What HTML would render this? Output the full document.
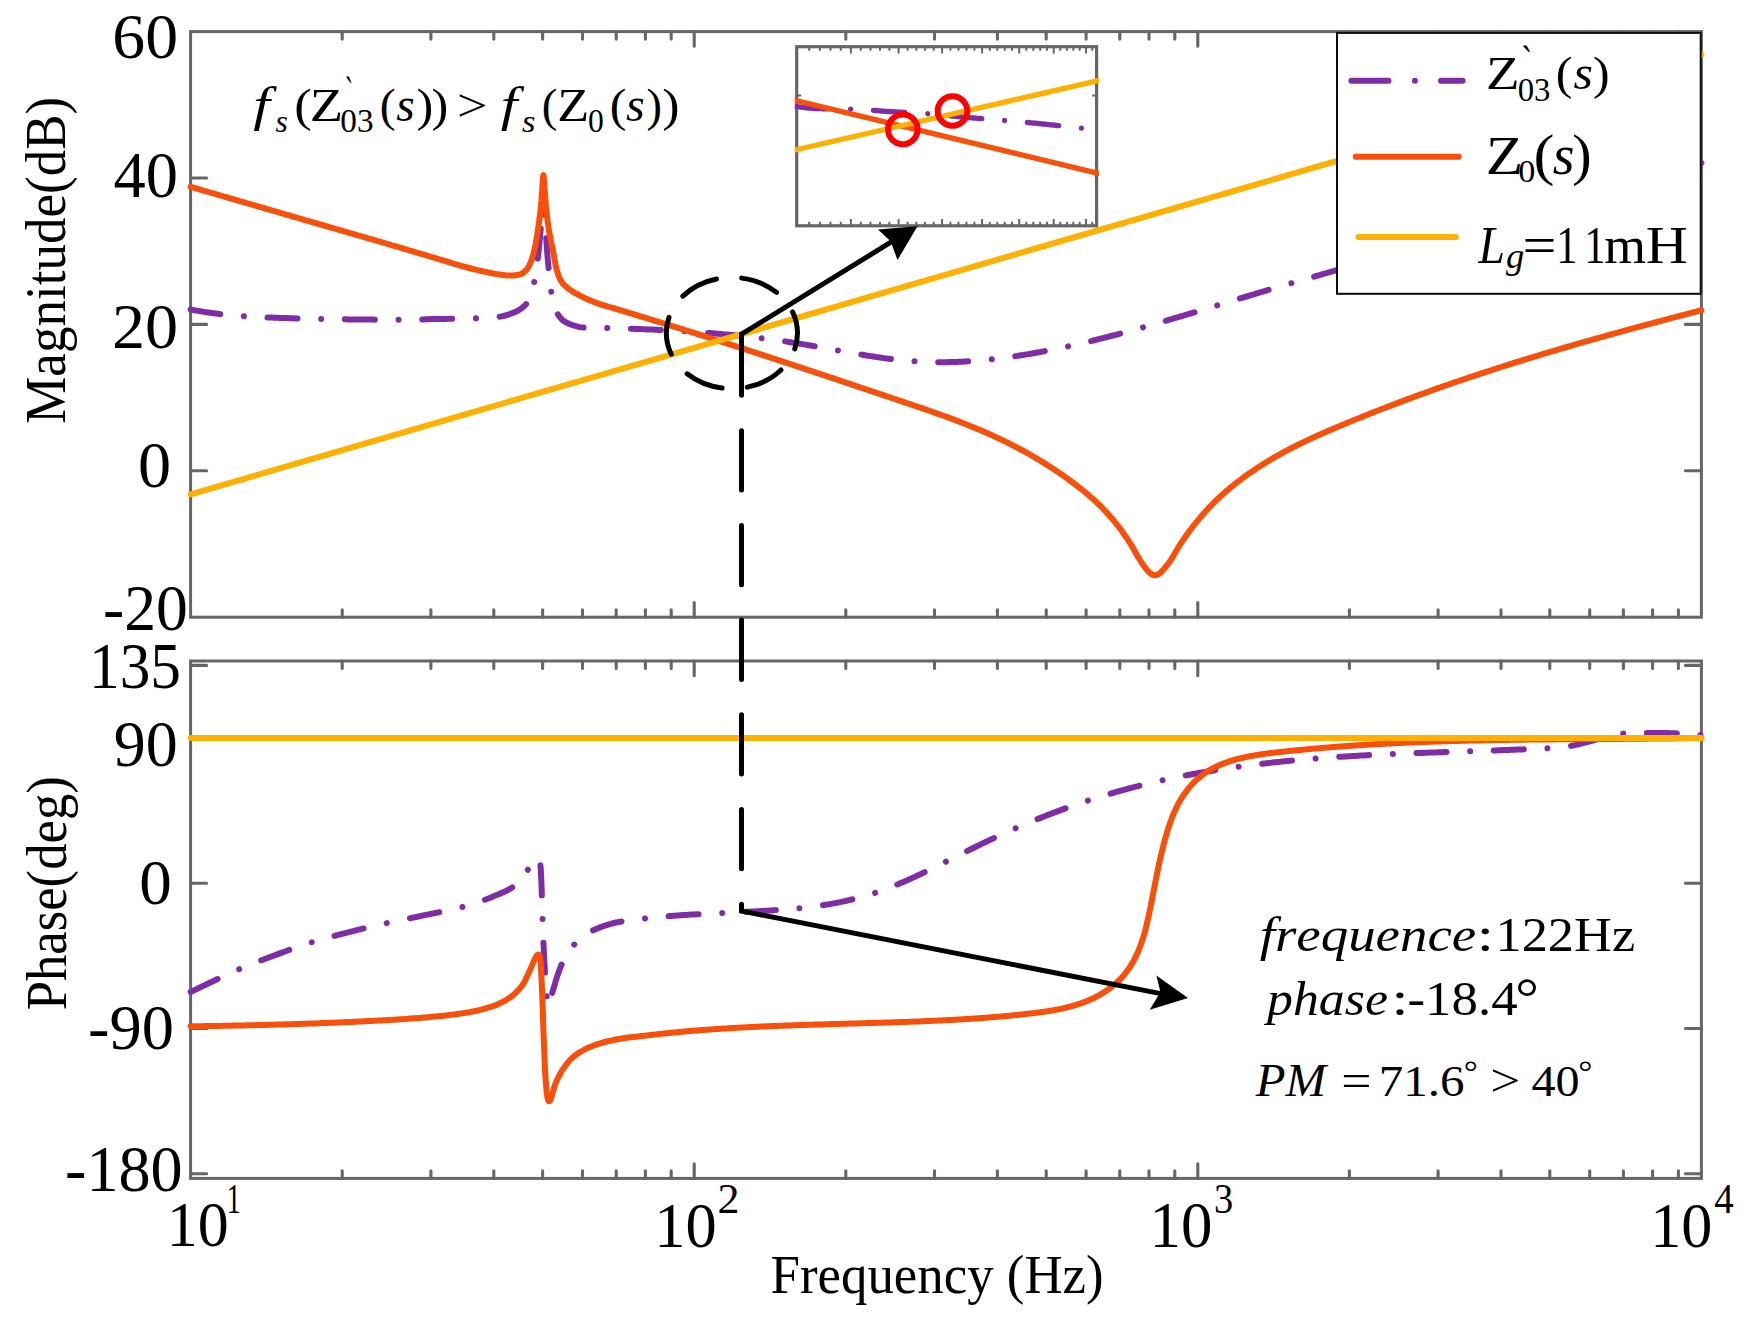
<!DOCTYPE html>
<html lang="en"><head><meta charset="utf-8"><title>Bode plot</title>
<style>html,body{margin:0;padding:0;background:#fff;overflow:hidden}svg{display:block}text{font-family:"Liberation Serif","DejaVu Serif",serif;fill:#000;font-kerning:none;font-variant-ligatures:none;white-space:pre}.i{font-style:italic}</style></head><body>
<svg width="1760" height="1331" viewBox="0 0 1760 1331">
<rect width="1760" height="1331" fill="#fff"/>
<g stroke="#666666" stroke-width="3" fill="none" stroke-linecap="butt">
<rect x="190.6" y="31.6" width="1510.8" height="585.6"/>
<path stroke-width="3.1" stroke-linecap="round" d="M342.2 31.6 v7.5 M342.2 617.2 v-7.5 M430.9 31.6 v7.5 M430.9 617.2 v-7.5 M493.8 31.6 v7.5 M493.8 617.2 v-7.5 M542.6 31.6 v7.5 M542.6 617.2 v-7.5 M582.5 31.6 v7.5 M582.5 617.2 v-7.5 M616.2 31.6 v7.5 M616.2 617.2 v-7.5 M645.4 31.6 v7.5 M645.4 617.2 v-7.5 M671.2 31.6 v7.5 M671.2 617.2 v-7.5 M694.2 31.6 v14.7 M694.2 617.2 v-14.7 M845.8 31.6 v7.5 M845.8 617.2 v-7.5 M934.5 31.6 v7.5 M934.5 617.2 v-7.5 M997.4 31.6 v7.5 M997.4 617.2 v-7.5 M1046.2 31.6 v7.5 M1046.2 617.2 v-7.5 M1086.1 31.6 v7.5 M1086.1 617.2 v-7.5 M1119.8 31.6 v7.5 M1119.8 617.2 v-7.5 M1149.0 31.6 v7.5 M1149.0 617.2 v-7.5 M1174.8 31.6 v7.5 M1174.8 617.2 v-7.5 M1197.8 31.6 v14.7 M1197.8 617.2 v-14.7 M1349.4 31.6 v7.5 M1349.4 617.2 v-7.5 M1438.1 31.6 v7.5 M1438.1 617.2 v-7.5 M1501.0 31.6 v7.5 M1501.0 617.2 v-7.5 M1549.8 31.6 v7.5 M1549.8 617.2 v-7.5 M1589.7 31.6 v7.5 M1589.7 617.2 v-7.5 M1623.4 31.6 v7.5 M1623.4 617.2 v-7.5 M1652.6 31.6 v7.5 M1652.6 617.2 v-7.5 M1678.4 31.6 v7.5 M1678.4 617.2 v-7.5"/>
<path stroke-width="3.1" stroke-linecap="round" d="M190.6 178.0 h16 M1701.4 178.0 h-16 M190.6 324.4 h16 M1701.4 324.4 h-16 M190.6 470.8 h16 M1701.4 470.8 h-16"/>
</g>
<g stroke="#666666" stroke-width="3" fill="none" stroke-linecap="butt">
<rect x="190.6" y="661.0" width="1510.8" height="517.4"/>
<path stroke-width="3.1" stroke-linecap="round" d="M342.2 661.0 v7.5 M342.2 1178.4 v-7.5 M430.9 661.0 v7.5 M430.9 1178.4 v-7.5 M493.8 661.0 v7.5 M493.8 1178.4 v-7.5 M542.6 661.0 v7.5 M542.6 1178.4 v-7.5 M582.5 661.0 v7.5 M582.5 1178.4 v-7.5 M616.2 661.0 v7.5 M616.2 1178.4 v-7.5 M645.4 661.0 v7.5 M645.4 1178.4 v-7.5 M671.2 661.0 v7.5 M671.2 1178.4 v-7.5 M694.2 661.0 v14.7 M694.2 1178.4 v-14.7 M845.8 661.0 v7.5 M845.8 1178.4 v-7.5 M934.5 661.0 v7.5 M934.5 1178.4 v-7.5 M997.4 661.0 v7.5 M997.4 1178.4 v-7.5 M1046.2 661.0 v7.5 M1046.2 1178.4 v-7.5 M1086.1 661.0 v7.5 M1086.1 1178.4 v-7.5 M1119.8 661.0 v7.5 M1119.8 1178.4 v-7.5 M1149.0 661.0 v7.5 M1149.0 1178.4 v-7.5 M1174.8 661.0 v7.5 M1174.8 1178.4 v-7.5 M1197.8 661.0 v14.7 M1197.8 1178.4 v-14.7 M1349.4 661.0 v7.5 M1349.4 1178.4 v-7.5 M1438.1 661.0 v7.5 M1438.1 1178.4 v-7.5 M1501.0 661.0 v7.5 M1501.0 1178.4 v-7.5 M1549.8 661.0 v7.5 M1549.8 1178.4 v-7.5 M1589.7 661.0 v7.5 M1589.7 1178.4 v-7.5 M1623.4 661.0 v7.5 M1623.4 1178.4 v-7.5 M1652.6 661.0 v7.5 M1652.6 1178.4 v-7.5 M1678.4 661.0 v7.5 M1678.4 1178.4 v-7.5"/>
<path stroke-width="3.1" stroke-linecap="round" d="M190.6 665.4 h16 M1701.4 665.4 h-16 M190.6 738.0 h16 M1701.4 738.0 h-16 M190.6 883.3 h16 M1701.4 883.3 h-16 M190.6 1028.5 h16 M1701.4 1028.5 h-16 M190.6 1173.8 h16 M1701.4 1173.8 h-16"/>
</g>
<g fill="none" stroke-width="6.0" stroke-linecap="round" stroke-linejoin="round">
<path stroke="#802CA6" stroke-dasharray="30 23.7 0.01 23.7" d="M190.6 309.5 L192.6 309.9 L194.5 310.2 L196.5 310.6 L198.4 310.9 L200.4 311.3 L202.3 311.6 L204.3 311.9 L206.2 312.2 L208.2 312.5 L210.1 312.8 L212.1 313.1 L214.0 313.3 L216.0 313.6 L217.9 313.8 L219.9 314.1 L221.8 314.3 L223.8 314.5 L225.7 314.7 L227.7 314.9 L229.6 315.1 L231.5 315.3 L233.4 315.4 L235.4 315.6 L237.3 315.8 L239.2 315.9 L241.1 316.1 L243.1 316.2 L245.0 316.3 L246.9 316.4 L248.9 316.5 L250.8 316.6 L252.8 316.7 L254.7 316.8 L256.6 316.9 L258.6 317.0 L260.5 317.1 L262.5 317.2 L264.4 317.3 L266.3 317.4 L268.3 317.4 L270.2 317.5 L272.2 317.6 L274.1 317.7 L276.0 317.7 L278.0 317.8 L279.9 317.9 L281.9 317.9 L283.8 318.0 L285.7 318.1 L287.6 318.1 L289.5 318.2 L291.4 318.2 L293.4 318.3 L295.3 318.4 L297.2 318.4 L299.1 318.5 L301.0 318.5 L302.9 318.6 L304.8 318.6 L306.7 318.7 L308.6 318.7 L310.5 318.8 L312.4 318.8 L314.4 318.9 L316.3 318.9 L318.2 318.9 L320.1 319.0 L322.0 319.0 L324.0 319.0 L326.0 319.1 L328.0 319.1 L330.0 319.1 L332.0 319.2 L334.0 319.2 L336.0 319.2 L338.0 319.2 L340.0 319.3 L342.0 319.3 L344.0 319.3 L346.0 319.3 L348.0 319.4 L350.0 319.4 L352.0 319.4 L354.0 319.4 L356.0 319.5 L358.0 319.5 L360.0 319.5 L362.0 319.5 L363.9 319.5 L365.9 319.6 L367.9 319.6 L369.9 319.6 L371.9 319.6 L373.8 319.6 L375.8 319.7 L377.8 319.7 L379.8 319.7 L381.7 319.7 L383.7 319.7 L385.7 319.7 L387.6 319.8 L389.6 319.8 L391.6 319.8 L393.6 319.8 L395.6 319.8 L397.5 319.8 L399.5 319.8 L401.5 319.8 L403.5 319.8 L405.5 319.8 L407.5 319.7 L409.5 319.7 L411.5 319.7 L413.5 319.6 L415.5 319.6 L417.5 319.5 L419.5 319.5 L421.5 319.4 L423.5 319.4 L425.5 319.3 L427.5 319.2 L429.5 319.2 L431.5 319.1 L433.5 319.1 L435.5 319.0 L437.5 319.0 L439.5 319.0 L441.4 318.9 L443.4 318.9 L445.4 318.9 L447.3 318.8 L449.3 318.8 L451.3 318.8 L453.2 318.8 L455.2 318.7 L457.1 318.7 L459.1 318.7 L461.1 318.6 L463.0 318.6 L465.0 318.6 L467.0 318.5 L468.9 318.5 L470.9 318.5 L472.9 318.4 L474.8 318.4 L476.8 318.3 L478.7 318.2 L480.6 318.2 L482.4 318.1 L484.3 318.0 L486.2 317.9 L488.1 317.8 L490.0 317.7 L491.9 317.5 L493.7 317.4 L495.6 317.2 L497.5 317.0 L499.4 316.7 L501.4 316.4 L503.3 316.0 L505.3 315.5 L507.2 314.9 L509.2 314.3 L511.1 313.6 L513.1 312.8 L515.0 312.0 L516.8 311.2 L518.6 310.3 L520.4 309.2 L522.1 307.9 L523.9 306.4 L525.7 304.6 L527.5 302.5 L528.7 300.6 L529.8 297.9 L531.0 294.5 L532.2 290.4 L533.3 285.8 L534.5 280.8 L535.2 277.4 L535.8 273.2 L536.5 268.5 L537.2 263.2 L537.8 257.7 L538.5 252.0 L538.9 248.1 L539.3 243.7 L539.8 239.0 L540.2 234.4 L540.6 230.0 L541.0 226.0 L541.4 222.7 L541.7 219.1 L542.0 215.7 L542.4 212.8 L542.8 210.8 L543.1 210.0 L543.5 210.7 L543.8 212.7 L544.2 215.5 L544.5 218.9 L544.9 222.5 L545.2 226.0 L545.6 230.2 L546.0 235.1 L546.4 240.6 L546.7 246.1 L547.1 251.3 L547.5 256.0 L548.1 263.1 L548.8 270.1 L549.4 276.8 L550.0 282.8 L550.7 288.0 L551.3 292.0 L552.3 297.2 L553.4 301.8 L554.4 305.8 L555.4 309.1 L556.5 311.8 L557.5 313.8 L559.0 316.0 L560.4 317.8 L561.9 319.4 L563.4 320.7 L564.8 321.7 L566.3 322.5 L568.2 323.4 L570.2 324.2 L572.1 325.0 L574.1 325.7 L576.0 326.2 L578.0 326.7 L579.9 327.1 L581.9 327.4 L583.8 327.5 L585.1 327.6 L586.5 327.6 L587.8 327.6 L589.1 327.6 L590.5 327.7 L591.8 327.7 L593.1 327.7 L594.5 327.7 L595.8 327.8 L597.1 327.8 L598.5 327.8 L599.8 327.9 L601.1 327.9 L602.5 327.9 L603.8 328.0 L605.1 328.0 L606.5 328.0 L607.8 328.1 L609.1 328.1 L610.5 328.1 L611.8 328.2 L613.1 328.2 L614.5 328.3 L615.8 328.3 L617.1 328.3 L618.5 328.4 L619.8 328.4 L621.1 328.5 L622.5 328.5 L623.8 328.5 L625.1 328.6 L626.5 328.6 L627.8 328.7 L629.1 328.7 L630.5 328.8 L631.8 328.8 L633.1 328.8 L634.5 328.9 L635.8 328.9 L637.1 329.0 L638.5 329.0 L639.8 329.1 L641.1 329.1 L642.5 329.2 L643.8 329.2 L645.1 329.3 L646.5 329.4 L647.8 329.4 L649.1 329.5 L650.5 329.5 L651.8 329.6 L653.1 329.6 L654.5 329.7 L655.8 329.8 L657.1 329.8 L658.5 329.9 L659.8 329.9 L661.1 330.0 L662.5 330.1 L663.8 330.1 L665.1 330.2 L666.5 330.3 L667.8 330.3 L669.1 330.4 L670.5 330.5 L671.8 330.6 L673.1 330.6 L674.5 330.7 L675.8 330.8 L677.1 330.9 L678.5 330.9 L679.8 331.0 L681.1 331.1 L682.5 331.2 L683.8 331.2 L685.1 331.3 L686.5 331.4 L687.8 331.5 L689.1 331.6 L690.5 331.7 L691.8 331.8 L693.1 331.8 L694.5 331.9 L695.8 332.0 L697.1 332.1 L698.5 332.2 L699.8 332.3 L701.1 332.4 L702.5 332.5 L703.8 332.6 L705.1 332.7 L706.5 332.8 L707.8 332.9 L709.1 333.0 L710.5 333.1 L711.8 333.2 L713.1 333.3 L714.5 333.4 L715.8 333.6 L717.1 333.7 L718.5 333.8 L719.8 333.9 L721.1 334.0 L722.5 334.1 L723.8 334.3 L725.1 334.4 L726.5 334.5 L727.8 334.6 L729.1 334.7 L730.5 334.9 L731.8 335.0 L733.1 335.1 L734.5 335.3 L735.8 335.4 L737.1 335.5 L738.5 335.7 L739.8 335.8 L741.1 335.9 L742.5 336.1 L743.8 336.2 L745.1 336.4 L746.5 336.5 L747.8 336.7 L749.1 336.8 L750.5 337.0 L751.8 337.1 L753.1 337.3 L754.5 337.4 L755.8 337.6 L757.1 337.7 L758.5 337.9 L759.8 338.0 L761.1 338.2 L762.5 338.4 L763.8 338.5 L765.1 338.7 L766.5 338.9 L767.8 339.0 L769.1 339.2 L770.5 339.4 L771.8 339.6 L773.1 339.8 L774.5 339.9 L775.8 340.1 L777.1 340.3 L778.5 340.5 L779.8 340.7 L781.1 340.9 L782.5 341.1 L783.8 341.2 L785.1 341.4 L786.5 341.6 L787.8 341.8 L789.1 342.0 L790.5 342.2 L791.8 342.5 L793.1 342.7 L794.5 342.9 L795.8 343.1 L797.1 343.3 L798.5 343.5 L799.8 343.7 L801.1 343.9 L802.5 344.2 L803.8 344.4 L805.1 344.6 L806.5 344.8 L807.8 345.1 L809.1 345.3 L810.5 345.5 L811.8 345.8 L813.1 346.0 L814.5 346.2 L815.8 346.5 L817.1 346.7 L818.5 346.9 L819.8 347.2 L821.1 347.4 L822.5 347.7 L823.8 347.9 L825.1 348.1 L826.5 348.4 L827.8 348.6 L829.1 348.9 L830.5 349.1 L831.8 349.3 L833.1 349.6 L834.5 349.8 L835.8 350.1 L837.1 350.3 L838.5 350.6 L839.8 350.8 L841.1 351.0 L842.5 351.3 L843.8 351.5 L845.1 351.8 L846.5 352.0 L847.8 352.2 L849.1 352.5 L850.5 352.7 L851.8 353.0 L853.1 353.2 L854.5 353.4 L855.8 353.7 L857.1 353.9 L858.5 354.1 L859.8 354.3 L861.1 354.6 L862.5 354.8 L863.8 355.0 L865.1 355.2 L866.5 355.5 L867.8 355.7 L869.1 355.9 L870.5 356.1 L871.8 356.3 L873.1 356.5 L874.5 356.7 L875.8 356.9 L877.1 357.1 L878.5 357.3 L879.8 357.5 L881.1 357.7 L882.5 357.9 L883.8 358.1 L885.1 358.3 L886.5 358.4 L887.8 358.6 L889.1 358.8 L890.5 359.0 L891.8 359.1 L893.1 359.3 L894.5 359.5 L895.8 359.6 L897.1 359.8 L898.5 359.9 L899.8 360.0 L901.1 360.2 L902.5 360.3 L903.8 360.5 L905.1 360.6 L906.5 360.7 L907.8 360.8 L909.1 360.9 L910.5 361.0 L911.8 361.1 L913.1 361.2 L914.5 361.3 L915.8 361.4 L917.1 361.5 L918.5 361.6 L919.8 361.7 L921.1 361.7 L922.5 361.8 L923.8 361.9 L925.1 361.9 L926.5 362.0 L927.8 362.0 L929.1 362.1 L930.5 362.1 L931.8 362.1 L933.1 362.2 L934.5 362.2 L935.8 362.2 L937.1 362.2 L938.5 362.2 L939.8 362.2 L941.1 362.2 L942.5 362.2 L943.8 362.2 L945.1 362.2 L946.5 362.2 L947.8 362.2 L949.1 362.1 L950.5 362.1 L951.8 362.1 L953.1 362.0 L954.5 362.0 L955.8 361.9 L957.1 361.9 L958.5 361.8 L959.8 361.8 L961.1 361.7 L962.5 361.7 L963.8 361.6 L965.1 361.5 L966.5 361.4 L967.8 361.3 L969.1 361.3 L970.5 361.2 L971.8 361.1 L973.1 361.0 L974.5 360.9 L975.8 360.8 L977.1 360.7 L978.5 360.6 L979.8 360.4 L981.1 360.3 L982.5 360.2 L983.8 360.1 L985.1 360.0 L986.5 359.8 L987.8 359.7 L989.1 359.5 L990.5 359.4 L991.8 359.3 L993.1 359.1 L994.5 359.0 L995.8 358.8 L997.1 358.6 L998.5 358.5 L999.8 358.3 L1001.1 358.1 L1002.5 358.0 L1003.8 357.8 L1005.1 357.6 L1006.5 357.4 L1007.8 357.3 L1009.1 357.1 L1010.5 356.9 L1011.8 356.7 L1013.1 356.5 L1014.5 356.3 L1015.8 356.1 L1017.1 355.9 L1018.5 355.7 L1019.8 355.5 L1021.1 355.3 L1022.5 355.1 L1023.8 354.8 L1025.1 354.6 L1026.5 354.4 L1027.8 354.2 L1029.1 354.0 L1030.5 353.7 L1031.8 353.5 L1033.1 353.3 L1034.5 353.0 L1035.8 352.8 L1037.1 352.5 L1038.5 352.3 L1039.8 352.1 L1041.1 351.8 L1042.5 351.6 L1043.8 351.3 L1045.1 351.1 L1046.5 350.8 L1047.8 350.5 L1049.1 350.3 L1050.5 350.0 L1051.8 349.7 L1053.1 349.5 L1054.5 349.2 L1055.8 348.9 L1057.1 348.7 L1058.5 348.4 L1059.8 348.1 L1061.1 347.8 L1062.5 347.5 L1063.8 347.3 L1065.1 347.0 L1066.5 346.7 L1067.8 346.4 L1069.1 346.1 L1070.5 345.8 L1071.8 345.5 L1073.1 345.2 L1074.5 344.9 L1075.8 344.6 L1077.1 344.3 L1078.5 344.0 L1079.8 343.7 L1081.1 343.4 L1082.5 343.1 L1083.8 342.8 L1085.1 342.4 L1086.5 342.1 L1087.8 341.8 L1089.1 341.5 L1090.5 341.2 L1091.8 340.8 L1093.1 340.5 L1094.5 340.2 L1095.8 339.9 L1097.1 339.5 L1098.5 339.2 L1099.8 338.9 L1101.1 338.5 L1102.5 338.2 L1103.8 337.9 L1105.1 337.5 L1106.5 337.2 L1107.8 336.8 L1109.1 336.5 L1110.5 336.1 L1111.8 335.8 L1113.1 335.5 L1114.5 335.1 L1115.8 334.8 L1117.1 334.4 L1118.5 334.1 L1119.8 333.7 L1121.1 333.3 L1122.5 333.0 L1123.8 332.6 L1125.1 332.3 L1126.5 331.9 L1127.8 331.5 L1129.1 331.2 L1130.5 330.8 L1131.8 330.4 L1133.1 330.1 L1134.5 329.7 L1135.8 329.3 L1137.1 329.0 L1138.5 328.6 L1139.8 328.2 L1141.1 327.9 L1142.5 327.5 L1143.8 327.1 L1145.1 326.7 L1146.5 326.4 L1147.8 326.0 L1149.1 325.6 L1150.5 325.2 L1151.8 324.8 L1153.1 324.5 L1154.5 324.1 L1155.8 323.7 L1157.1 323.3 L1158.5 322.9 L1159.8 322.5 L1161.1 322.1 L1162.5 321.8 L1163.8 321.4 L1165.1 321.0 L1166.5 320.6 L1167.8 320.2 L1169.1 319.8 L1170.5 319.4 L1171.8 319.0 L1173.1 318.6 L1174.5 318.2 L1175.8 317.8 L1177.1 317.4 L1178.5 317.1 L1179.8 316.7 L1181.1 316.3 L1182.5 315.9 L1183.8 315.5 L1185.1 315.1 L1186.5 314.7 L1187.8 314.3 L1189.1 313.9 L1190.5 313.5 L1191.8 313.1 L1193.1 312.7 L1194.5 312.3 L1195.8 311.9 L1197.1 311.5 L1198.5 311.1 L1199.8 310.7 L1201.1 310.3 L1202.5 309.9 L1203.8 309.4 L1205.1 309.0 L1206.5 308.6 L1207.8 308.2 L1209.1 307.8 L1210.5 307.4 L1211.8 307.0 L1213.1 306.6 L1214.5 306.2 L1215.8 305.8 L1217.1 305.4 L1218.5 305.0 L1219.8 304.6 L1221.1 304.2 L1222.5 303.8 L1223.8 303.4 L1225.1 303.0 L1226.5 302.6 L1227.8 302.2 L1229.1 301.8 L1230.5 301.4 L1231.8 301.0 L1233.1 300.6 L1234.5 300.1 L1235.8 299.7 L1237.1 299.3 L1238.5 298.9 L1239.8 298.5 L1241.1 298.1 L1242.5 297.7 L1243.8 297.3 L1245.1 296.9 L1246.5 296.5 L1247.8 296.1 L1249.1 295.7 L1250.5 295.3 L1251.8 294.9 L1253.1 294.5 L1254.5 294.1 L1255.8 293.7 L1257.1 293.3 L1258.5 292.9 L1259.8 292.5 L1261.1 292.1 L1262.5 291.7 L1263.8 291.3 L1265.1 290.9 L1266.5 290.5 L1267.8 290.1 L1269.1 289.7 L1270.5 289.4 L1271.8 289.0 L1273.1 288.6 L1274.5 288.2 L1275.8 287.8 L1277.1 287.4 L1278.5 287.0 L1279.8 286.6 L1281.1 286.2 L1282.5 285.8 L1283.8 285.4 L1285.1 285.0 L1286.5 284.6 L1287.8 284.2 L1289.1 283.9 L1290.5 283.5 L1291.8 283.1 L1293.1 282.7 L1294.5 282.3 L1295.8 281.9 L1297.1 281.5 L1298.5 281.1 L1299.8 280.8 L1301.1 280.4 L1302.5 280.0 L1303.8 279.6 L1305.1 279.2 L1306.5 278.8 L1307.8 278.4 L1309.1 278.0 L1310.5 277.7 L1311.8 277.3 L1313.1 276.9 L1314.5 276.5 L1315.8 276.1 L1317.1 275.7 L1318.5 275.4 L1319.8 275.0 L1321.1 274.6 L1322.5 274.2 L1323.8 273.8 L1325.1 273.4 L1326.5 273.1 L1327.8 272.7 L1329.1 272.3 L1330.5 271.9 L1331.8 271.5 L1333.1 271.2 L1334.5 270.8 L1335.8 270.4 L1337.1 270.0 L1338.5 269.6 L1339.8 269.3 L1341.1 268.9 L1342.5 268.5 L1343.8 268.1 L1345.1 267.7 L1346.5 267.4 L1347.8 267.0 L1349.1 266.6 L1350.5 266.2 L1351.8 265.8 L1353.1 265.5 L1354.5 265.1 L1355.8 264.7 L1357.1 264.3 L1358.5 264.0 L1359.8 263.6 L1361.1 263.2 L1362.5 262.8 L1363.8 262.4 L1365.1 262.1 L1366.5 261.7 L1367.8 261.3 L1369.1 260.9 L1370.5 260.6 L1371.8 260.2 L1373.1 259.8 L1374.5 259.4 L1375.8 259.1 L1377.1 258.7 L1378.5 258.3 L1379.8 257.9 L1381.1 257.6 L1382.5 257.2 L1383.8 256.8 L1385.1 256.4 L1386.5 256.1 L1387.8 255.7 L1389.1 255.3 L1390.5 254.9 L1391.8 254.6 L1393.1 254.2 L1394.5 253.8 L1395.8 253.4 L1397.1 253.1 L1398.5 252.7 L1399.8 252.3 L1401.1 252.0 L1402.5 251.6 L1403.8 251.2 L1405.1 250.8 L1406.5 250.5 L1407.8 250.1 L1409.1 249.7 L1410.5 249.3 L1411.8 249.0 L1413.1 248.6 L1414.5 248.2 L1415.8 247.8 L1417.1 247.5 L1418.5 247.1 L1419.8 246.7 L1421.1 246.3 L1422.5 246.0 L1423.8 245.6 L1425.1 245.2 L1426.5 244.9 L1427.8 244.5 L1429.1 244.1 L1430.5 243.7 L1431.8 243.4 L1433.1 243.0 L1434.5 242.6 L1435.8 242.2 L1437.1 241.9 L1438.5 241.5 L1439.8 241.1 L1441.1 240.8 L1442.5 240.4 L1443.8 240.0 L1445.1 239.6 L1446.5 239.3 L1447.8 238.9 L1449.1 238.5 L1450.5 238.1 L1451.8 237.8 L1453.1 237.4 L1454.5 237.0 L1455.8 236.6 L1457.1 236.3 L1458.5 235.9 L1459.8 235.5 L1461.1 235.1 L1462.5 234.8 L1463.8 234.4 L1465.1 234.0 L1466.5 233.6 L1467.8 233.3 L1469.1 232.9 L1470.5 232.5 L1471.8 232.1 L1473.1 231.8 L1474.5 231.4 L1475.8 231.0 L1477.1 230.6 L1478.5 230.3 L1479.8 229.9 L1481.1 229.5 L1482.5 229.1 L1483.8 228.8 L1485.1 228.4 L1486.5 228.0 L1487.8 227.6 L1489.1 227.3 L1490.5 226.9 L1491.8 226.5 L1493.1 226.1 L1494.5 225.7 L1495.8 225.4 L1497.1 225.0 L1498.5 224.6 L1499.8 224.2 L1501.1 223.9 L1502.5 223.5 L1503.8 223.1 L1505.1 222.7 L1506.5 222.3 L1507.8 222.0 L1509.1 221.6 L1510.5 221.2 L1511.8 220.8 L1513.1 220.4 L1514.5 220.1 L1515.8 219.7 L1517.1 219.3 L1518.5 218.9 L1519.8 218.5 L1521.1 218.2 L1522.5 217.8 L1523.8 217.4 L1525.1 217.0 L1526.5 216.6 L1527.8 216.2 L1529.1 215.9 L1530.5 215.5 L1531.8 215.1 L1533.1 214.7 L1534.5 214.3 L1535.8 213.9 L1537.1 213.6 L1538.5 213.2 L1539.8 212.8 L1541.1 212.4 L1542.5 212.0 L1543.8 211.6 L1545.1 211.2 L1546.5 210.8 L1547.8 210.5 L1549.1 210.1 L1550.5 209.7 L1551.8 209.3 L1553.1 208.9 L1554.5 208.5 L1555.8 208.1 L1557.1 207.7 L1558.5 207.4 L1559.8 207.0 L1561.1 206.6 L1562.5 206.2 L1563.8 205.8 L1565.1 205.4 L1566.5 205.0 L1567.8 204.6 L1569.1 204.2 L1570.5 203.8 L1571.8 203.4 L1573.1 203.0 L1574.5 202.7 L1575.8 202.3 L1577.1 201.9 L1578.5 201.5 L1579.8 201.1 L1581.1 200.7 L1582.5 200.3 L1583.8 199.9 L1585.1 199.5 L1586.5 199.1 L1587.8 198.7 L1589.1 198.3 L1590.5 197.9 L1591.8 197.5 L1593.1 197.1 L1594.5 196.7 L1595.8 196.3 L1597.1 195.9 L1598.5 195.5 L1599.8 195.1 L1601.1 194.7 L1602.5 194.3 L1603.8 193.9 L1605.1 193.5 L1606.5 193.1 L1607.8 192.7 L1609.1 192.3 L1610.5 191.9 L1611.8 191.5 L1613.1 191.1 L1614.5 190.7 L1615.8 190.3 L1617.1 189.8 L1618.5 189.4 L1619.8 189.0 L1621.1 188.6 L1622.5 188.2 L1623.8 187.8 L1625.1 187.4 L1626.5 187.0 L1627.8 186.6 L1629.1 186.2 L1630.5 185.7 L1631.8 185.3 L1633.1 184.9 L1634.5 184.5 L1635.8 184.1 L1637.1 183.7 L1638.5 183.3 L1639.8 182.8 L1641.1 182.4 L1642.5 182.0 L1643.8 181.6 L1645.1 181.2 L1646.5 180.8 L1647.8 180.3 L1649.1 179.9 L1650.5 179.5 L1651.8 179.1 L1653.1 178.7 L1654.5 178.2 L1655.8 177.8 L1657.1 177.4 L1658.5 177.0 L1659.8 176.6 L1661.1 176.1 L1662.5 175.7 L1663.8 175.3 L1665.1 174.8 L1666.5 174.4 L1667.8 174.0 L1669.1 173.6 L1670.5 173.1 L1671.8 172.7 L1673.1 172.3 L1674.5 171.9 L1675.8 171.4 L1677.1 171.0 L1678.5 170.6 L1679.8 170.1 L1681.1 169.7 L1682.5 169.3 L1683.8 168.8 L1685.1 168.4 L1686.5 168.0 L1687.8 167.5 L1689.1 167.1 L1690.5 166.6 L1691.8 166.2 L1693.1 165.8 L1694.5 165.3 L1695.8 164.9 L1696.7 164.6 L1697.7 164.3 L1698.6 164.0 L1699.5 163.6 L1700.5 163.3 L1701.4 163.0"/>
<path stroke="#F8500A" d="M190.6 186.8 L192.6 187.4 L194.6 188.0 L196.6 188.5 L198.6 189.1 L200.5 189.7 L202.5 190.3 L204.5 190.9 L206.5 191.4 L208.5 192.0 L210.5 192.6 L212.5 193.2 L214.5 193.7 L216.5 194.3 L218.4 194.9 L220.4 195.5 L222.4 196.1 L224.4 196.6 L226.4 197.2 L228.4 197.8 L230.4 198.4 L232.4 199.0 L234.4 199.5 L236.3 200.1 L238.3 200.7 L240.3 201.3 L242.3 201.8 L244.3 202.4 L246.3 203.0 L248.3 203.6 L250.3 204.2 L252.3 204.7 L254.3 205.3 L256.2 205.9 L258.2 206.5 L260.2 207.0 L262.2 207.6 L264.2 208.2 L266.2 208.8 L268.2 209.4 L270.2 209.9 L272.2 210.5 L274.1 211.1 L276.1 211.7 L278.1 212.2 L280.1 212.8 L282.1 213.4 L284.1 214.0 L286.1 214.6 L288.1 215.1 L290.1 215.7 L292.0 216.3 L294.0 216.9 L296.0 217.4 L298.0 218.0 L300.0 218.6 L302.0 219.2 L304.0 219.8 L306.0 220.3 L308.0 220.9 L310.0 221.5 L312.0 222.1 L314.0 222.7 L316.0 223.2 L318.0 223.8 L320.0 224.4 L322.0 225.0 L324.0 225.5 L326.0 226.1 L328.0 226.7 L330.0 227.3 L332.0 227.9 L334.0 228.4 L336.0 229.0 L338.0 229.6 L340.0 230.2 L342.0 230.7 L344.0 231.3 L346.0 231.9 L348.0 232.5 L350.0 233.1 L352.0 233.6 L354.0 234.2 L356.0 234.8 L358.0 235.4 L360.0 235.9 L362.0 236.5 L364.0 237.1 L366.0 237.7 L368.0 238.3 L370.0 238.8 L372.0 239.4 L374.0 240.0 L376.0 240.6 L378.0 241.2 L380.0 241.7 L382.0 242.3 L384.0 242.9 L386.0 243.5 L388.0 244.1 L390.0 244.7 L392.0 245.3 L394.0 245.8 L396.0 246.4 L398.0 247.0 L400.0 247.6 L402.0 248.2 L404.0 248.8 L406.0 249.4 L408.0 250.0 L410.0 250.6 L412.0 251.2 L414.0 251.8 L416.0 252.4 L418.0 253.0 L420.0 253.6 L422.0 254.2 L424.0 254.7 L426.0 255.3 L428.0 255.9 L430.0 256.5 L432.0 257.1 L434.0 257.7 L436.0 258.3 L438.0 258.9 L440.0 259.5 L441.9 260.1 L443.9 260.7 L445.8 261.2 L447.8 261.8 L449.7 262.4 L451.6 263.0 L453.6 263.6 L455.5 264.2 L457.4 264.7 L459.4 265.3 L461.3 265.9 L463.2 266.4 L465.2 267.0 L467.1 267.5 L469.1 268.0 L471.0 268.5 L472.9 269.0 L474.8 269.4 L476.7 269.9 L478.6 270.3 L480.5 270.8 L482.4 271.2 L484.3 271.6 L486.2 272.0 L488.1 272.4 L490.0 272.8 L491.7 273.1 L493.3 273.5 L495.0 273.8 L496.7 274.1 L498.3 274.4 L500.0 274.6 L501.7 274.8 L503.3 275.0 L505.0 275.3 L506.7 275.4 L508.3 275.6 L510.0 275.6 L511.7 275.6 L513.3 275.4 L515.0 275.3 L516.7 275.0 L518.3 274.7 L520.0 274.4 L521.0 274.1 L522.1 273.5 L523.1 272.8 L524.2 272.0 L525.2 271.0 L526.3 270.0 L527.0 269.2 L527.7 268.1 L528.5 266.9 L529.2 265.6 L529.9 264.1 L530.6 262.5 L531.2 260.9 L531.9 259.1 L532.5 257.1 L533.1 255.0 L533.8 252.6 L534.4 250.0 L535.0 247.5 L535.5 244.7 L536.0 241.6 L536.6 238.3 L537.2 234.9 L537.7 231.3 L538.2 227.8 L538.8 224.1 L539.3 220.3 L539.8 216.1 L540.4 211.5 L540.9 206.3 L541.1 203.7 L541.4 200.7 L541.6 197.5 L541.8 194.1 L542.1 190.7 L542.3 187.5 L542.4 185.8 L542.5 184.1 L542.6 182.3 L542.8 180.7 L542.9 179.2 L543.0 178.0 L543.1 177.4 L543.1 176.8 L543.2 176.2 L543.3 175.7 L543.3 175.4 L543.4 175.3 L543.5 175.4 L543.5 175.7 L543.6 176.2 L543.7 176.8 L543.7 177.4 L543.8 178.0 L543.9 179.2 L544.0 180.7 L544.1 182.4 L544.3 184.1 L544.4 185.9 L544.5 187.5 L544.8 190.8 L545.0 194.2 L545.2 197.5 L545.5 200.6 L545.8 203.6 L546.0 206.3 L546.5 211.3 L547.0 216.0 L547.5 220.3 L548.1 224.3 L548.6 228.0 L549.1 231.3 L549.7 234.9 L550.4 238.2 L551.0 241.2 L551.6 244.0 L552.3 246.9 L552.9 250.0 L553.5 253.2 L554.1 256.6 L554.7 260.1 L555.3 263.4 L555.9 266.4 L556.5 268.8 L557.3 271.5 L558.1 274.0 L558.9 276.3 L559.7 278.3 L560.5 279.9 L561.3 281.3 L562.5 283.0 L563.8 284.5 L565.0 285.7 L566.3 286.8 L567.5 287.8 L568.8 288.8 L570.7 290.2 L572.5 291.4 L574.4 292.6 L576.3 293.7 L578.2 294.7 L580.0 295.7 L581.9 296.6 L583.8 297.5 L585.6 298.4 L587.4 299.2 L589.2 300.0 L591.0 300.8 L592.8 301.5 L594.6 302.2 L596.4 302.9 L598.2 303.6 L600.0 304.2 L601.3 304.6 L602.7 305.0 L604.0 305.4 L605.3 305.8 L606.7 306.2 L608.0 306.6 L609.3 307.0 L610.7 307.4 L612.0 307.7 L613.3 308.1 L614.7 308.5 L616.0 308.9 L617.3 309.3 L618.7 309.7 L620.0 310.1 L621.3 310.5 L622.7 310.9 L624.0 311.3 L625.3 311.7 L626.7 312.1 L628.0 312.5 L629.3 312.9 L630.7 313.3 L632.0 313.7 L633.3 314.1 L634.7 314.5 L636.0 314.9 L637.3 315.4 L638.7 315.8 L640.0 316.2 L641.3 316.6 L642.7 317.0 L644.0 317.4 L645.3 317.8 L646.7 318.2 L648.0 318.6 L649.3 319.0 L650.7 319.4 L652.0 319.8 L653.3 320.2 L654.7 320.6 L656.0 321.1 L657.3 321.5 L658.7 321.9 L660.0 322.3 L661.3 322.7 L662.7 323.1 L664.0 323.5 L665.3 323.9 L666.7 324.4 L668.0 324.8 L669.3 325.2 L670.7 325.6 L672.0 326.0 L673.3 326.4 L674.7 326.8 L676.0 327.3 L677.3 327.7 L678.7 328.1 L680.0 328.5 L681.3 328.9 L682.7 329.3 L684.0 329.8 L685.3 330.2 L686.7 330.6 L688.0 331.0 L689.3 331.4 L690.7 331.9 L692.0 332.3 L693.3 332.7 L694.7 333.1 L696.0 333.5 L697.3 334.0 L698.7 334.4 L700.0 334.8 L701.3 335.2 L702.7 335.7 L704.0 336.1 L705.3 336.5 L706.7 336.9 L708.0 337.4 L709.3 337.8 L710.7 338.2 L712.0 338.6 L713.3 339.1 L714.7 339.5 L716.0 339.9 L717.3 340.3 L718.7 340.8 L720.0 341.2 L721.3 341.6 L722.7 342.0 L724.0 342.5 L725.3 342.9 L726.7 343.3 L728.0 343.8 L729.3 344.2 L730.7 344.6 L732.0 345.0 L733.3 345.5 L734.7 345.9 L736.0 346.3 L737.3 346.8 L738.7 347.2 L740.0 347.6 L741.3 348.1 L742.7 348.5 L744.0 348.9 L745.3 349.4 L746.7 349.8 L748.0 350.2 L749.3 350.7 L750.7 351.1 L752.0 351.5 L753.3 352.0 L754.7 352.4 L756.0 352.8 L757.3 353.3 L758.7 353.7 L760.0 354.1 L761.3 354.6 L762.7 355.0 L764.0 355.4 L765.3 355.9 L766.7 356.3 L768.0 356.8 L769.3 357.2 L770.7 357.6 L772.0 358.1 L773.3 358.5 L774.7 358.9 L776.0 359.4 L777.3 359.8 L778.7 360.3 L780.0 360.7 L781.3 361.1 L782.7 361.6 L784.0 362.0 L785.3 362.5 L786.7 362.9 L788.0 363.3 L789.3 363.8 L790.7 364.2 L792.0 364.7 L793.3 365.1 L794.7 365.5 L796.0 366.0 L797.3 366.4 L798.7 366.9 L800.0 367.3 L801.3 367.7 L802.7 368.2 L804.0 368.6 L805.3 369.1 L806.7 369.5 L808.0 370.0 L809.3 370.4 L810.7 370.8 L812.0 371.3 L813.3 371.7 L814.7 372.2 L816.0 372.6 L817.3 373.1 L818.7 373.5 L820.0 373.9 L821.3 374.4 L822.7 374.8 L824.0 375.3 L825.3 375.7 L826.7 376.2 L828.0 376.6 L829.3 377.1 L830.7 377.5 L832.0 377.9 L833.3 378.4 L834.7 378.8 L836.0 379.3 L837.3 379.7 L838.7 380.2 L840.0 380.6 L841.3 381.1 L842.7 381.5 L844.0 382.0 L845.3 382.4 L846.7 382.9 L848.0 383.3 L849.3 383.7 L850.7 384.2 L852.0 384.6 L853.3 385.1 L854.7 385.5 L856.0 386.0 L857.3 386.4 L858.7 386.9 L860.0 387.3 L861.3 387.8 L862.7 388.2 L864.0 388.7 L865.3 389.1 L866.7 389.6 L868.0 390.0 L869.3 390.5 L870.7 390.9 L872.0 391.4 L873.3 391.8 L874.7 392.2 L876.0 392.7 L877.3 393.1 L878.7 393.6 L880.0 394.0 L881.3 394.5 L882.7 394.9 L884.0 395.4 L885.3 395.8 L886.7 396.3 L888.0 396.7 L889.3 397.2 L890.7 397.6 L892.0 398.1 L893.3 398.5 L894.7 399.0 L896.0 399.4 L897.3 399.9 L898.7 400.3 L900.0 400.8 L901.3 401.2 L902.7 401.7 L904.0 402.1 L905.3 402.6 L906.7 403.0 L908.0 403.5 L909.3 403.9 L910.7 404.4 L912.0 404.8 L913.3 405.3 L914.7 405.7 L916.0 406.2 L917.3 406.6 L918.7 407.1 L920.0 407.5 L921.3 408.0 L922.7 408.4 L924.0 408.9 L925.3 409.4 L926.7 409.8 L928.0 410.3 L929.3 410.8 L930.7 411.2 L932.0 411.7 L933.3 412.2 L934.7 412.6 L936.0 413.1 L937.3 413.6 L938.7 414.0 L940.0 414.5 L941.3 415.0 L942.7 415.5 L944.0 416.0 L945.3 416.4 L946.7 416.9 L948.0 417.4 L949.3 417.9 L950.7 418.4 L952.0 418.9 L953.3 419.4 L954.7 419.9 L956.0 420.4 L957.3 420.9 L958.7 421.4 L960.0 421.9 L961.3 422.5 L962.7 423.0 L964.0 423.5 L965.3 424.0 L966.7 424.6 L968.0 425.1 L969.3 425.6 L970.7 426.2 L972.0 426.7 L973.3 427.3 L974.7 427.8 L976.0 428.4 L977.3 428.9 L978.7 429.5 L980.0 430.0 L981.3 430.6 L982.7 431.2 L984.0 431.8 L985.3 432.3 L986.7 432.9 L988.0 433.5 L989.3 434.1 L990.7 434.7 L992.0 435.3 L993.3 435.9 L994.7 436.5 L996.0 437.1 L997.3 437.8 L998.7 438.4 L1000.0 439.0 L1001.3 439.6 L1002.7 440.3 L1004.0 440.9 L1005.3 441.6 L1006.7 442.2 L1008.0 442.9 L1009.3 443.6 L1010.7 444.2 L1012.0 444.9 L1013.3 445.6 L1014.7 446.3 L1016.0 447.0 L1017.3 447.7 L1018.7 448.4 L1020.0 449.1 L1021.3 449.8 L1022.7 450.5 L1024.0 451.2 L1025.3 452.0 L1026.7 452.7 L1028.0 453.5 L1029.3 454.2 L1030.7 455.0 L1032.0 455.7 L1033.3 456.5 L1034.7 457.3 L1036.0 458.1 L1037.3 458.9 L1038.7 459.7 L1040.0 460.5 L1041.3 461.3 L1042.7 462.1 L1044.0 462.9 L1045.3 463.8 L1046.7 464.6 L1048.0 465.5 L1049.3 466.3 L1050.7 467.2 L1052.0 468.0 L1053.3 468.9 L1054.7 469.8 L1056.0 470.7 L1057.3 471.6 L1058.7 472.5 L1060.0 473.4 L1061.3 474.3 L1062.7 475.3 L1064.0 476.2 L1065.3 477.1 L1066.7 478.1 L1068.0 479.1 L1069.3 480.0 L1070.7 481.0 L1072.0 482.0 L1073.3 483.0 L1074.7 484.0 L1076.0 485.0 L1077.3 486.0 L1078.7 487.1 L1080.0 488.1 L1081.3 489.2 L1082.7 490.2 L1084.0 491.3 L1085.3 492.4 L1086.7 493.5 L1088.0 494.6 L1089.3 495.8 L1090.7 496.9 L1092.0 498.1 L1093.3 499.3 L1094.7 500.5 L1096.0 501.8 L1097.3 503.0 L1098.7 504.3 L1100.0 505.6 L1101.3 506.9 L1102.7 508.3 L1104.0 509.7 L1105.3 511.1 L1106.7 512.5 L1108.0 514.0 L1109.3 515.5 L1110.7 517.0 L1112.0 518.5 L1113.3 520.1 L1114.7 521.7 L1116.0 523.4 L1117.3 525.1 L1118.7 526.8 L1120.0 528.5 L1121.3 530.3 L1122.7 532.2 L1124.0 534.1 L1125.3 536.0 L1126.7 537.9 L1128.0 539.9 L1128.3 540.4 L1128.7 540.9 L1129.0 541.4 L1129.3 541.9 L1129.7 542.4 L1130.0 542.9 L1131.7 545.7 L1133.3 548.6 L1135.0 551.5 L1136.7 554.5 L1138.3 557.3 L1140.0 560.0 L1141.2 561.9 L1142.5 563.8 L1143.8 565.7 L1145.0 567.4 L1146.2 569.0 L1147.5 570.5 L1148.2 571.2 L1148.8 572.0 L1149.5 572.7 L1150.2 573.3 L1150.8 573.8 L1151.5 574.2 L1152.1 574.4 L1152.7 574.7 L1153.2 574.9 L1153.8 575.1 L1154.4 575.2 L1155.0 575.2 L1155.6 575.2 L1156.2 575.1 L1156.8 574.9 L1157.3 574.7 L1157.9 574.4 L1158.5 574.2 L1159.2 573.8 L1159.8 573.3 L1160.5 572.7 L1161.2 571.9 L1161.8 571.2 L1162.5 570.5 L1163.8 569.2 L1165.0 567.7 L1166.2 566.2 L1167.5 564.7 L1168.8 563.0 L1170.0 561.3 L1171.7 558.8 L1173.3 556.0 L1175.0 553.1 L1176.7 550.2 L1178.3 547.3 L1180.0 544.6 L1181.3 542.6 L1182.7 540.6 L1184.0 538.7 L1185.3 536.8 L1186.7 534.9 L1188.0 533.1 L1189.3 531.3 L1190.7 529.5 L1192.0 527.8 L1193.3 526.0 L1194.7 524.4 L1196.0 522.7 L1197.3 521.0 L1198.7 519.4 L1200.0 517.8 L1201.3 516.3 L1202.7 514.7 L1204.0 513.2 L1205.3 511.7 L1206.7 510.3 L1208.0 508.8 L1209.3 507.4 L1210.7 506.0 L1212.0 504.6 L1213.3 503.3 L1214.7 501.9 L1216.0 500.6 L1217.3 499.3 L1218.7 498.1 L1220.0 496.8 L1221.3 495.6 L1222.7 494.4 L1224.0 493.2 L1225.3 492.0 L1226.7 490.8 L1228.0 489.7 L1229.3 488.6 L1230.7 487.4 L1232.0 486.3 L1233.3 485.3 L1234.7 484.2 L1236.0 483.1 L1237.3 482.1 L1238.7 481.1 L1240.0 480.1 L1241.3 479.1 L1242.7 478.1 L1244.0 477.1 L1245.3 476.1 L1246.7 475.2 L1248.0 474.2 L1249.3 473.3 L1250.7 472.4 L1252.0 471.5 L1253.3 470.6 L1254.7 469.7 L1256.0 468.8 L1257.3 467.9 L1258.7 467.0 L1260.0 466.2 L1261.3 465.3 L1262.7 464.5 L1264.0 463.6 L1265.3 462.8 L1266.7 462.0 L1268.0 461.2 L1269.3 460.4 L1270.7 459.6 L1272.0 458.8 L1273.3 458.0 L1274.7 457.3 L1276.0 456.5 L1277.3 455.7 L1278.7 455.0 L1280.0 454.2 L1281.3 453.5 L1282.7 452.8 L1284.0 452.0 L1285.3 451.3 L1286.7 450.6 L1288.0 449.9 L1289.3 449.2 L1290.7 448.5 L1292.0 447.8 L1293.3 447.1 L1294.7 446.5 L1296.0 445.8 L1297.3 445.1 L1298.7 444.5 L1300.0 443.8 L1301.3 443.2 L1302.7 442.5 L1304.0 441.9 L1305.3 441.2 L1306.7 440.6 L1308.0 440.0 L1309.3 439.4 L1310.7 438.7 L1312.0 438.1 L1313.3 437.5 L1314.7 436.9 L1316.0 436.3 L1317.3 435.7 L1318.7 435.1 L1320.0 434.5 L1321.3 433.9 L1322.7 433.3 L1324.0 432.7 L1325.3 432.2 L1326.7 431.6 L1328.0 431.0 L1329.3 430.4 L1330.7 429.9 L1332.0 429.3 L1333.3 428.7 L1334.7 428.1 L1336.0 427.6 L1337.3 427.0 L1338.7 426.5 L1340.0 425.9 L1341.3 425.3 L1342.7 424.8 L1344.0 424.2 L1345.3 423.7 L1346.7 423.1 L1348.0 422.6 L1349.3 422.0 L1350.7 421.5 L1352.0 420.9 L1353.3 420.4 L1354.7 419.8 L1356.0 419.3 L1357.3 418.8 L1358.7 418.2 L1360.0 417.7 L1361.3 417.1 L1362.7 416.6 L1364.0 416.1 L1365.3 415.5 L1366.7 415.0 L1368.0 414.5 L1369.3 413.9 L1370.7 413.4 L1372.0 412.9 L1373.3 412.3 L1374.7 411.8 L1376.0 411.3 L1377.3 410.8 L1378.7 410.2 L1380.0 409.7 L1381.3 409.2 L1382.7 408.7 L1384.0 408.2 L1385.3 407.7 L1386.7 407.1 L1388.0 406.6 L1389.3 406.1 L1390.7 405.6 L1392.0 405.1 L1393.3 404.6 L1394.7 404.1 L1396.0 403.6 L1397.3 403.1 L1398.7 402.6 L1400.0 402.1 L1401.3 401.6 L1402.7 401.1 L1404.0 400.6 L1405.3 400.1 L1406.7 399.6 L1408.0 399.1 L1409.3 398.6 L1410.7 398.1 L1412.0 397.6 L1413.3 397.1 L1414.7 396.6 L1416.0 396.1 L1417.3 395.6 L1418.7 395.1 L1420.0 394.7 L1421.3 394.2 L1422.7 393.7 L1424.0 393.2 L1425.3 392.7 L1426.7 392.2 L1428.0 391.8 L1429.3 391.3 L1430.7 390.8 L1432.0 390.3 L1433.3 389.9 L1434.7 389.4 L1436.0 388.9 L1437.3 388.4 L1438.7 388.0 L1440.0 387.5 L1441.3 387.0 L1442.7 386.6 L1444.0 386.1 L1445.3 385.6 L1446.7 385.2 L1448.0 384.7 L1449.3 384.2 L1450.7 383.8 L1452.0 383.3 L1453.3 382.9 L1454.7 382.4 L1456.0 381.9 L1457.3 381.5 L1458.7 381.0 L1460.0 380.6 L1461.3 380.1 L1462.7 379.7 L1464.0 379.2 L1465.3 378.8 L1466.7 378.3 L1468.0 377.9 L1469.3 377.4 L1470.7 377.0 L1472.0 376.5 L1473.3 376.1 L1474.7 375.6 L1476.0 375.2 L1477.3 374.8 L1478.7 374.3 L1480.0 373.9 L1481.3 373.4 L1482.7 373.0 L1484.0 372.6 L1485.3 372.1 L1486.7 371.7 L1488.0 371.3 L1489.3 370.8 L1490.7 370.4 L1492.0 370.0 L1493.3 369.5 L1494.7 369.1 L1496.0 368.7 L1497.3 368.2 L1498.7 367.8 L1500.0 367.4 L1501.3 367.0 L1502.7 366.5 L1504.0 366.1 L1505.3 365.7 L1506.7 365.3 L1508.0 364.8 L1509.3 364.4 L1510.7 364.0 L1512.0 363.6 L1513.3 363.2 L1514.7 362.7 L1516.0 362.3 L1517.3 361.9 L1518.7 361.5 L1520.0 361.1 L1521.3 360.7 L1522.7 360.2 L1524.0 359.8 L1525.3 359.4 L1526.7 359.0 L1528.0 358.6 L1529.3 358.2 L1530.7 357.8 L1532.0 357.4 L1533.3 357.0 L1534.7 356.6 L1536.0 356.2 L1537.3 355.8 L1538.7 355.3 L1540.0 354.9 L1541.3 354.5 L1542.7 354.1 L1544.0 353.7 L1545.3 353.3 L1546.7 352.9 L1548.0 352.5 L1549.3 352.1 L1550.7 351.7 L1552.0 351.3 L1553.3 351.0 L1554.7 350.6 L1556.0 350.2 L1557.3 349.8 L1558.7 349.4 L1560.0 349.0 L1561.3 348.6 L1562.7 348.2 L1564.0 347.8 L1565.3 347.4 L1566.7 347.0 L1568.0 346.6 L1569.3 346.2 L1570.7 345.9 L1572.0 345.5 L1573.3 345.1 L1574.7 344.7 L1576.0 344.3 L1577.3 343.9 L1578.7 343.5 L1580.0 343.2 L1581.3 342.8 L1582.7 342.4 L1584.0 342.0 L1585.3 341.6 L1586.7 341.3 L1588.0 340.9 L1589.3 340.5 L1590.7 340.1 L1592.0 339.7 L1593.3 339.4 L1594.7 339.0 L1596.0 338.6 L1597.3 338.2 L1598.7 337.9 L1600.0 337.5 L1601.3 337.1 L1602.7 336.7 L1604.0 336.4 L1605.3 336.0 L1606.7 335.6 L1608.0 335.2 L1609.3 334.9 L1610.7 334.5 L1612.0 334.1 L1613.3 333.8 L1614.7 333.4 L1616.0 333.0 L1617.3 332.7 L1618.7 332.3 L1620.0 331.9 L1621.3 331.6 L1622.7 331.2 L1624.0 330.8 L1625.3 330.5 L1626.7 330.1 L1628.0 329.7 L1629.3 329.4 L1630.7 329.0 L1632.0 328.6 L1633.3 328.3 L1634.7 327.9 L1636.0 327.6 L1637.3 327.2 L1638.7 326.8 L1640.0 326.5 L1641.3 326.1 L1642.7 325.8 L1644.0 325.4 L1645.3 325.0 L1646.7 324.7 L1648.0 324.3 L1649.3 324.0 L1650.7 323.6 L1652.0 323.3 L1653.3 322.9 L1654.7 322.5 L1656.0 322.2 L1657.3 321.8 L1658.7 321.5 L1660.0 321.1 L1661.3 320.8 L1662.7 320.4 L1664.0 320.1 L1665.3 319.7 L1666.7 319.4 L1668.0 319.0 L1669.3 318.6 L1670.7 318.3 L1672.0 317.9 L1673.3 317.6 L1674.7 317.2 L1676.0 316.9 L1677.3 316.5 L1678.7 316.2 L1680.0 315.8 L1681.3 315.5 L1682.7 315.1 L1684.0 314.8 L1685.3 314.4 L1686.7 314.1 L1688.0 313.8 L1689.3 313.4 L1690.7 313.1 L1692.0 312.7 L1693.3 312.4 L1694.7 312.0 L1696.0 311.7 L1697.3 311.3 L1698.7 311.0 L1700.0 310.6 L1700.2 310.6 L1700.5 310.5 L1700.7 310.4 L1700.9 310.4 L1701.2 310.3 L1701.4 310.3"/>
<path stroke="#FFB000" d="M190.6 494.3 L1701.4 54.9"/>
<path stroke="#802CA6" stroke-dasharray="30 23.7 0.01 23.7" d="M190.6 992.0 L192.6 991.0 L194.5 990.1 L196.5 989.2 L198.4 988.2 L200.4 987.3 L202.4 986.3 L204.3 985.4 L206.3 984.5 L208.2 983.5 L210.2 982.6 L212.2 981.7 L214.1 980.8 L216.1 979.8 L218.0 978.9 L220.0 978.0 L222.0 977.1 L224.0 976.1 L226.0 975.2 L228.0 974.2 L230.0 973.3 L232.0 972.4 L234.0 971.4 L236.0 970.5 L238.0 969.7 L240.0 968.8 L242.0 968.0 L244.0 967.1 L246.0 966.3 L248.0 965.5 L250.0 964.7 L252.0 963.9 L254.0 963.1 L256.0 962.3 L258.0 961.5 L260.0 960.8 L262.0 960.0 L264.0 959.3 L266.0 958.5 L268.0 957.8 L270.0 957.0 L272.0 956.3 L274.0 955.5 L276.0 954.8 L277.9 954.1 L279.8 953.4 L281.8 952.7 L283.7 952.0 L285.6 951.3 L287.5 950.5 L289.4 949.8 L291.4 949.2 L293.3 948.5 L295.2 947.8 L297.1 947.1 L299.1 946.4 L301.0 945.8 L302.9 945.1 L304.8 944.5 L306.7 943.8 L308.7 943.2 L310.6 942.6 L312.5 942.0 L314.5 941.4 L316.4 940.8 L318.4 940.2 L320.4 939.7 L322.4 939.1 L324.3 938.5 L326.3 938.0 L328.3 937.4 L330.3 936.9 L332.2 936.4 L334.2 935.9 L336.2 935.3 L338.2 934.8 L340.1 934.3 L342.1 933.8 L344.1 933.3 L346.1 932.8 L348.0 932.3 L350.0 931.8 L352.0 931.3 L353.9 930.8 L355.9 930.3 L357.9 929.8 L359.9 929.4 L361.8 928.9 L363.8 928.4 L365.8 928.0 L367.8 927.5 L369.7 927.0 L371.7 926.6 L373.7 926.1 L375.7 925.7 L377.6 925.2 L379.6 924.8 L381.6 924.3 L383.6 923.9 L385.5 923.4 L387.5 923.0 L389.5 922.6 L391.5 922.1 L393.5 921.7 L395.5 921.3 L397.5 920.8 L399.5 920.4 L401.5 920.0 L403.5 919.6 L405.5 919.2 L407.5 918.8 L409.5 918.3 L411.5 917.9 L413.5 917.5 L415.5 917.1 L417.5 916.7 L419.5 916.3 L421.5 915.8 L423.5 915.4 L425.5 915.0 L427.5 914.6 L429.5 914.2 L431.5 913.8 L433.5 913.4 L435.4 913.0 L437.4 912.6 L439.4 912.2 L441.4 911.8 L443.4 911.4 L445.4 911.0 L447.4 910.5 L449.4 910.1 L451.4 909.7 L453.4 909.3 L455.3 908.8 L457.3 908.3 L459.3 907.8 L461.3 907.3 L463.3 906.8 L465.2 906.3 L467.2 905.7 L469.1 905.2 L471.0 904.6 L472.9 904.0 L474.9 903.3 L476.8 902.7 L478.7 902.0 L480.6 901.3 L482.6 900.7 L484.5 899.9 L486.4 899.2 L488.4 898.5 L490.3 897.7 L492.2 896.9 L494.1 896.1 L496.1 895.3 L498.0 894.5 L500.0 893.7 L501.9 892.8 L503.9 891.9 L505.9 891.0 L507.9 890.0 L509.8 888.9 L511.8 887.7 L513.8 886.3 L515.6 884.8 L517.3 882.9 L519.1 880.8 L520.9 878.5 L522.7 876.1 L524.5 873.8 L526.2 871.5 L528.0 869.5 L529.2 868.3 L530.3 867.2 L531.5 866.1 L532.7 864.9 L533.8 863.8 L535.0 862.5 L535.6 861.7 L536.2 860.7 L536.8 859.8 L537.3 858.9 L537.9 858.2 L538.5 858.0 L538.8 858.2 L539.1 858.8 L539.4 859.7 L539.7 860.9 L540.0 862.3 L540.3 864.0 L540.5 865.7 L540.7 868.4 L540.9 871.9 L541.1 876.0 L541.3 880.4 L541.5 885.0 L541.7 889.5 L541.8 894.9 L542.0 900.8 L542.2 906.9 L542.3 912.8 L542.5 918.0 L542.8 925.0 L543.0 931.7 L543.2 938.1 L543.5 944.2 L543.8 949.8 L544.0 955.0 L544.2 959.8 L544.5 964.2 L544.8 968.4 L545.0 972.4 L545.2 976.2 L545.5 980.0 L545.7 982.7 L545.9 985.3 L546.0 987.9 L546.2 990.3 L546.4 992.7 L546.6 995.0 L546.8 997.2 L546.9 999.7 L547.1 1002.0 L547.3 1004.0 L547.4 1005.5 L547.6 1006.0 L547.8 1005.9 L548.0 1005.6 L548.2 1005.1 L548.4 1004.6 L548.6 1004.0 L548.8 1003.5 L549.4 1001.9 L550.0 1000.1 L550.6 998.1 L551.3 996.1 L551.9 994.0 L552.5 992.0 L553.2 989.5 L554.0 987.0 L554.8 984.4 L555.5 981.8 L556.2 979.3 L557.0 977.0 L557.9 974.3 L558.8 971.6 L559.8 969.1 L560.7 966.7 L561.6 964.5 L562.5 962.5 L564.5 958.7 L566.4 955.3 L568.4 952.1 L570.4 949.3 L572.3 946.8 L574.3 944.5 L576.3 942.4 L578.2 940.5 L580.2 938.7 L582.1 937.0 L584.1 935.5 L586.1 934.1 L588.0 932.9 L590.0 931.8 L592.0 930.8 L594.0 929.9 L596.0 929.0 L598.0 928.2 L600.0 927.4 L602.0 926.7 L604.0 925.9 L606.0 925.3 L608.0 924.7 L610.0 924.1 L612.0 923.5 L614.0 923.0 L616.0 922.5 L618.0 922.1 L620.0 921.7 L621.3 921.5 L622.7 921.3 L624.0 921.1 L625.3 920.9 L626.7 920.7 L628.0 920.5 L629.3 920.3 L630.7 920.2 L632.0 920.0 L633.3 919.8 L634.7 919.6 L636.0 919.5 L637.3 919.3 L638.7 919.1 L640.0 919.0 L641.3 918.8 L642.7 918.7 L644.0 918.5 L645.3 918.4 L646.7 918.2 L648.0 918.1 L649.3 917.9 L650.7 917.8 L652.0 917.7 L653.3 917.5 L654.7 917.4 L656.0 917.3 L657.3 917.1 L658.7 917.0 L660.0 916.9 L661.3 916.8 L662.7 916.7 L664.0 916.5 L665.3 916.4 L666.7 916.3 L668.0 916.2 L669.3 916.1 L670.7 916.0 L672.0 915.9 L673.3 915.8 L674.7 915.7 L676.0 915.6 L677.3 915.5 L678.7 915.4 L680.0 915.3 L681.3 915.2 L682.7 915.1 L684.0 915.0 L685.3 915.0 L686.7 914.9 L688.0 914.8 L689.3 914.7 L690.7 914.6 L692.0 914.5 L693.3 914.5 L694.7 914.4 L696.0 914.3 L697.3 914.2 L698.7 914.2 L700.0 914.1 L701.3 914.0 L702.7 913.9 L704.0 913.9 L705.3 913.8 L706.7 913.7 L708.0 913.7 L709.3 913.6 L710.7 913.5 L712.0 913.5 L713.3 913.4 L714.7 913.3 L716.0 913.3 L717.3 913.2 L718.7 913.1 L720.0 913.1 L721.3 913.0 L722.7 913.0 L724.0 912.9 L725.3 912.8 L726.7 912.8 L728.0 912.7 L729.3 912.6 L730.7 912.6 L732.0 912.5 L733.3 912.5 L734.7 912.4 L736.0 912.3 L737.3 912.3 L738.7 912.2 L740.0 912.1 L741.3 912.1 L742.7 912.0 L744.0 911.9 L745.3 911.9 L746.7 911.8 L748.0 911.8 L749.3 911.7 L750.7 911.6 L752.0 911.6 L753.3 911.5 L754.7 911.4 L756.0 911.3 L757.3 911.3 L758.7 911.2 L760.0 911.1 L761.3 911.1 L762.7 911.0 L764.0 910.9 L765.3 910.8 L766.7 910.7 L768.0 910.7 L769.3 910.6 L770.7 910.5 L772.0 910.4 L773.3 910.3 L774.7 910.2 L776.0 910.1 L777.3 910.1 L778.7 910.0 L780.0 909.9 L781.3 909.8 L782.7 909.7 L784.0 909.6 L785.3 909.5 L786.7 909.3 L788.0 909.2 L789.3 909.1 L790.7 909.0 L792.0 908.9 L793.3 908.8 L794.7 908.6 L796.0 908.5 L797.3 908.4 L798.7 908.3 L800.0 908.1 L801.3 908.0 L802.7 907.8 L804.0 907.7 L805.3 907.5 L806.7 907.4 L808.0 907.2 L809.3 907.1 L810.7 906.9 L812.0 906.7 L813.3 906.6 L814.7 906.4 L816.0 906.2 L817.3 906.0 L818.7 905.8 L820.0 905.6 L821.3 905.4 L822.7 905.2 L824.0 905.0 L825.3 904.8 L826.7 904.6 L828.0 904.4 L829.3 904.2 L830.7 903.9 L832.0 903.7 L833.3 903.4 L834.7 903.2 L836.0 902.9 L837.3 902.7 L838.7 902.4 L840.0 902.2 L841.3 901.9 L842.7 901.6 L844.0 901.3 L845.3 901.0 L846.7 900.7 L848.0 900.4 L849.3 900.1 L850.7 899.8 L852.0 899.5 L853.3 899.2 L854.7 898.8 L856.0 898.5 L857.3 898.1 L858.7 897.8 L860.0 897.4 L861.3 897.1 L862.7 896.7 L864.0 896.3 L865.3 895.9 L866.7 895.5 L868.0 895.1 L869.3 894.7 L870.7 894.3 L872.0 893.9 L873.3 893.4 L874.7 893.0 L876.0 892.6 L877.3 892.1 L878.7 891.6 L880.0 891.2 L881.3 890.7 L882.7 890.2 L884.0 889.7 L885.3 889.2 L886.7 888.7 L888.0 888.2 L889.3 887.7 L890.7 887.2 L892.0 886.7 L893.3 886.1 L894.7 885.6 L896.0 885.0 L897.3 884.5 L898.7 883.9 L900.0 883.4 L901.3 882.8 L902.7 882.2 L904.0 881.7 L905.3 881.1 L906.7 880.5 L908.0 879.9 L909.3 879.3 L910.7 878.7 L912.0 878.1 L913.3 877.5 L914.7 876.9 L916.0 876.3 L917.3 875.6 L918.7 875.0 L920.0 874.4 L921.3 873.8 L922.7 873.1 L924.0 872.5 L925.3 871.9 L926.7 871.2 L928.0 870.6 L929.3 869.9 L930.7 869.3 L932.0 868.6 L933.3 868.0 L934.7 867.3 L936.0 866.7 L937.3 866.0 L938.7 865.3 L940.0 864.7 L941.3 864.0 L942.7 863.3 L944.0 862.7 L945.3 862.0 L946.7 861.3 L948.0 860.7 L949.3 860.0 L950.7 859.3 L952.0 858.7 L953.3 858.0 L954.7 857.3 L956.0 856.7 L957.3 856.0 L958.7 855.3 L960.0 854.6 L961.3 854.0 L962.7 853.3 L964.0 852.6 L965.3 852.0 L966.7 851.3 L968.0 850.6 L969.3 850.0 L970.7 849.3 L972.0 848.7 L973.3 848.0 L974.7 847.3 L976.0 846.7 L977.3 846.0 L978.7 845.4 L980.0 844.7 L981.3 844.1 L982.7 843.4 L984.0 842.8 L985.3 842.2 L986.7 841.5 L988.0 840.9 L989.3 840.2 L990.7 839.6 L992.0 839.0 L993.3 838.4 L994.7 837.7 L996.0 837.1 L997.3 836.5 L998.7 835.9 L1000.0 835.3 L1001.3 834.7 L1002.7 834.1 L1004.0 833.5 L1005.3 832.9 L1006.7 832.3 L1008.0 831.7 L1009.3 831.1 L1010.7 830.5 L1012.0 829.9 L1013.3 829.3 L1014.7 828.7 L1016.0 828.1 L1017.3 827.5 L1018.7 827.0 L1020.0 826.4 L1021.3 825.8 L1022.7 825.3 L1024.0 824.7 L1025.3 824.1 L1026.7 823.6 L1028.0 823.0 L1029.3 822.4 L1030.7 821.9 L1032.0 821.3 L1033.3 820.8 L1034.7 820.2 L1036.0 819.7 L1037.3 819.2 L1038.7 818.6 L1040.0 818.1 L1041.3 817.6 L1042.7 817.0 L1044.0 816.5 L1045.3 816.0 L1046.7 815.4 L1048.0 814.9 L1049.3 814.4 L1050.7 813.9 L1052.0 813.4 L1053.3 812.9 L1054.7 812.4 L1056.0 811.9 L1057.3 811.4 L1058.7 810.9 L1060.0 810.4 L1061.3 809.9 L1062.7 809.4 L1064.0 808.9 L1065.3 808.4 L1066.7 807.9 L1068.0 807.4 L1069.3 807.0 L1070.7 806.5 L1072.0 806.0 L1073.3 805.6 L1074.7 805.1 L1076.0 804.6 L1077.3 804.2 L1078.7 803.7 L1080.0 803.3 L1081.3 802.8 L1082.7 802.4 L1084.0 801.9 L1085.3 801.5 L1086.7 801.0 L1088.0 800.6 L1089.3 800.2 L1090.7 799.7 L1092.0 799.3 L1093.3 798.9 L1094.7 798.4 L1096.0 798.0 L1097.3 797.6 L1098.7 797.2 L1100.0 796.8 L1101.3 796.4 L1102.7 796.0 L1104.0 795.5 L1105.3 795.1 L1106.7 794.7 L1108.0 794.3 L1109.3 794.0 L1110.7 793.6 L1112.0 793.2 L1113.3 792.8 L1114.7 792.4 L1116.0 792.0 L1117.3 791.6 L1118.7 791.3 L1120.0 790.9 L1121.3 790.5 L1122.7 790.2 L1124.0 789.8 L1125.3 789.4 L1126.7 789.1 L1128.0 788.7 L1129.3 788.3 L1130.7 788.0 L1132.0 787.6 L1133.3 787.3 L1134.7 786.9 L1136.0 786.6 L1137.3 786.3 L1138.7 785.9 L1140.0 785.6 L1141.3 785.3 L1142.7 784.9 L1144.0 784.6 L1145.3 784.3 L1146.7 783.9 L1148.0 783.6 L1149.3 783.3 L1150.7 783.0 L1152.0 782.7 L1153.3 782.4 L1154.7 782.0 L1156.0 781.7 L1157.3 781.4 L1158.7 781.1 L1160.0 780.8 L1161.3 780.5 L1162.7 780.2 L1164.0 779.9 L1165.3 779.6 L1166.7 779.4 L1168.0 779.1 L1169.3 778.8 L1170.7 778.5 L1172.0 778.2 L1173.3 777.9 L1174.7 777.7 L1176.0 777.4 L1177.3 777.1 L1178.7 776.8 L1180.0 776.6 L1181.3 776.3 L1182.7 776.0 L1184.0 775.8 L1185.3 775.5 L1186.7 775.3 L1188.0 775.0 L1189.3 774.8 L1190.7 774.5 L1192.0 774.3 L1193.3 774.0 L1194.7 773.8 L1196.0 773.5 L1197.3 773.3 L1198.7 773.0 L1200.0 772.8 L1201.3 772.6 L1202.7 772.3 L1204.0 772.1 L1205.3 771.9 L1206.7 771.6 L1208.0 771.4 L1209.3 771.2 L1210.7 771.0 L1212.0 770.7 L1213.3 770.5 L1214.7 770.3 L1216.0 770.1 L1217.3 769.9 L1218.7 769.7 L1220.0 769.5 L1221.3 769.3 L1222.7 769.1 L1224.0 768.8 L1225.3 768.6 L1226.7 768.4 L1228.0 768.2 L1229.3 768.0 L1230.7 767.9 L1232.0 767.7 L1233.3 767.5 L1234.7 767.3 L1236.0 767.1 L1237.3 766.9 L1238.7 766.7 L1240.0 766.5 L1241.3 766.4 L1242.7 766.2 L1244.0 766.0 L1245.3 765.8 L1246.7 765.6 L1248.0 765.5 L1249.3 765.3 L1250.7 765.1 L1252.0 765.0 L1253.3 764.8 L1254.7 764.6 L1256.0 764.5 L1257.3 764.3 L1258.7 764.1 L1260.0 764.0 L1261.3 763.8 L1262.7 763.7 L1264.0 763.5 L1265.3 763.4 L1266.7 763.2 L1268.0 763.1 L1269.3 762.9 L1270.7 762.8 L1272.0 762.6 L1273.3 762.5 L1274.7 762.3 L1276.0 762.2 L1277.3 762.0 L1278.7 761.9 L1280.0 761.8 L1281.3 761.6 L1282.7 761.5 L1284.0 761.4 L1285.3 761.2 L1286.7 761.1 L1288.0 761.0 L1289.3 760.8 L1290.7 760.7 L1292.0 760.6 L1293.3 760.5 L1294.7 760.3 L1296.0 760.2 L1297.3 760.1 L1298.7 760.0 L1300.0 759.9 L1301.3 759.7 L1302.7 759.6 L1304.0 759.5 L1305.3 759.4 L1306.7 759.3 L1308.0 759.2 L1309.3 759.1 L1310.7 759.0 L1312.0 758.8 L1313.3 758.7 L1314.7 758.6 L1316.0 758.5 L1317.3 758.4 L1318.7 758.3 L1320.0 758.2 L1321.3 758.1 L1322.7 758.0 L1324.0 757.9 L1325.3 757.8 L1326.7 757.7 L1328.0 757.6 L1329.3 757.5 L1330.7 757.5 L1332.0 757.4 L1333.3 757.3 L1334.7 757.2 L1336.0 757.1 L1337.3 757.0 L1338.7 756.9 L1340.0 756.8 L1341.3 756.7 L1342.7 756.7 L1344.0 756.6 L1345.3 756.5 L1346.7 756.4 L1348.0 756.3 L1349.3 756.2 L1350.7 756.2 L1352.0 756.1 L1353.3 756.0 L1354.7 755.9 L1356.0 755.9 L1357.3 755.8 L1358.7 755.7 L1360.0 755.6 L1361.3 755.6 L1362.7 755.5 L1364.0 755.4 L1365.3 755.3 L1366.7 755.3 L1368.0 755.2 L1369.3 755.1 L1370.7 755.1 L1372.0 755.0 L1373.3 754.9 L1374.7 754.9 L1376.0 754.8 L1377.3 754.7 L1378.7 754.7 L1380.0 754.6 L1381.3 754.6 L1382.7 754.5 L1384.0 754.4 L1385.3 754.4 L1386.7 754.3 L1388.0 754.3 L1389.3 754.2 L1390.7 754.1 L1392.0 754.1 L1393.3 754.0 L1394.7 754.0 L1396.0 753.9 L1397.3 753.8 L1398.7 753.8 L1400.0 753.7 L1401.3 753.7 L1402.7 753.6 L1404.0 753.6 L1405.3 753.5 L1406.7 753.5 L1408.0 753.4 L1409.3 753.4 L1410.7 753.3 L1412.0 753.3 L1413.3 753.2 L1414.7 753.2 L1416.0 753.1 L1417.3 753.1 L1418.7 753.0 L1420.0 753.0 L1421.3 752.9 L1422.7 752.9 L1424.0 752.8 L1425.3 752.8 L1426.7 752.7 L1428.0 752.7 L1429.3 752.6 L1430.7 752.6 L1432.0 752.5 L1433.3 752.5 L1434.7 752.4 L1436.0 752.4 L1437.3 752.3 L1438.7 752.3 L1440.0 752.3 L1441.3 752.2 L1442.7 752.2 L1444.0 752.1 L1445.3 752.1 L1446.7 752.0 L1448.0 752.0 L1449.3 751.9 L1450.7 751.9 L1452.0 751.8 L1453.3 751.8 L1454.7 751.8 L1456.0 751.7 L1457.3 751.7 L1458.7 751.6 L1460.0 751.6 L1461.3 751.5 L1462.7 751.5 L1464.0 751.5 L1465.3 751.4 L1466.7 751.4 L1468.0 751.3 L1469.3 751.3 L1470.7 751.2 L1472.0 751.2 L1473.3 751.1 L1474.7 751.1 L1476.0 751.1 L1477.3 751.0 L1478.7 751.0 L1480.0 750.9 L1481.3 750.9 L1482.7 750.8 L1484.0 750.8 L1485.3 750.7 L1486.7 750.7 L1488.0 750.6 L1489.3 750.6 L1490.7 750.6 L1492.0 750.5 L1493.3 750.5 L1494.7 750.4 L1496.0 750.4 L1497.3 750.3 L1498.7 750.3 L1500.0 750.2 L1501.3 750.2 L1502.7 750.1 L1504.0 750.1 L1505.3 750.0 L1506.7 750.0 L1508.0 749.9 L1509.3 749.9 L1510.7 749.8 L1512.0 749.8 L1513.3 749.7 L1514.7 749.7 L1516.0 749.6 L1517.3 749.6 L1518.7 749.5 L1520.0 749.5 L1521.3 749.4 L1522.7 749.4 L1524.0 749.3 L1525.3 749.2 L1526.7 749.2 L1528.0 749.1 L1529.3 749.1 L1530.7 749.0 L1532.0 749.0 L1533.3 748.9 L1534.7 748.8 L1536.0 748.8 L1537.3 748.7 L1538.7 748.7 L1540.0 748.6 L1541.0 748.6 L1542.1 748.5 L1543.1 748.5 L1544.1 748.4 L1545.2 748.4 L1546.2 748.3 L1548.1 748.2 L1550.0 748.1 L1551.9 747.9 L1553.8 747.8 L1555.7 747.7 L1557.5 747.5 L1559.4 747.3 L1561.3 747.1 L1563.2 746.9 L1565.1 746.7 L1567.0 746.5 L1569.0 746.2 L1571.0 745.9 L1573.0 745.5 L1575.0 745.1 L1577.0 744.6 L1579.0 744.2 L1581.0 743.6 L1583.0 743.1 L1585.0 742.6 L1587.0 742.1 L1589.0 741.5 L1591.0 741.0 L1592.9 740.5 L1594.8 739.9 L1596.7 739.3 L1598.6 738.7 L1600.4 738.1 L1602.3 737.5 L1604.2 736.9 L1606.1 736.4 L1608.0 736.0 L1610.0 735.6 L1611.9 735.2 L1613.9 734.8 L1615.8 734.4 L1617.8 734.1 L1619.7 733.9 L1621.7 733.7 L1623.7 733.6 L1625.7 733.5 L1627.6 733.4 L1629.6 733.3 L1631.6 733.2 L1633.6 733.1 L1635.6 733.0 L1637.6 733.0 L1639.5 732.9 L1641.5 732.9 L1643.5 732.9 L1645.5 732.9 L1647.4 732.9 L1649.4 732.9 L1651.4 732.9 L1653.4 732.9 L1655.3 733.0 L1657.3 733.0 L1659.3 733.0 L1661.2 733.0 L1663.2 733.1 L1665.2 733.1 L1667.2 733.1 L1669.1 733.2 L1671.1 733.2 L1673.1 733.3 L1675.1 733.3 L1677.0 733.4 L1679.0 733.4 L1680.9 733.5 L1682.7 733.5 L1684.6 733.6 L1686.5 733.7 L1688.3 733.9 L1690.2 734.0 L1692.1 734.2 L1693.9 734.3 L1695.8 734.5 L1697.7 734.7 L1699.5 734.8 L1701.4 735.0"/>
<path stroke="#F8500A" d="M190.6 1026.3 L192.6 1026.3 L194.6 1026.3 L196.6 1026.2 L198.5 1026.2 L200.5 1026.2 L202.5 1026.2 L204.5 1026.1 L206.5 1026.1 L208.5 1026.1 L210.5 1026.0 L212.5 1026.0 L214.4 1026.0 L216.4 1025.9 L218.4 1025.9 L220.4 1025.9 L222.4 1025.8 L224.4 1025.8 L226.4 1025.8 L228.3 1025.7 L230.3 1025.7 L232.3 1025.6 L234.3 1025.6 L236.3 1025.6 L238.3 1025.5 L240.3 1025.5 L242.3 1025.4 L244.2 1025.4 L246.2 1025.3 L248.2 1025.3 L250.2 1025.2 L252.2 1025.2 L254.2 1025.2 L256.2 1025.1 L258.1 1025.1 L260.1 1025.0 L262.1 1025.0 L264.1 1024.9 L266.1 1024.9 L268.1 1024.8 L270.1 1024.8 L272.1 1024.7 L274.0 1024.7 L276.0 1024.6 L278.0 1024.6 L280.0 1024.5 L282.0 1024.4 L284.0 1024.4 L286.0 1024.3 L288.0 1024.3 L290.0 1024.2 L292.0 1024.2 L294.0 1024.1 L296.0 1024.0 L298.0 1024.0 L300.0 1023.9 L302.0 1023.8 L304.0 1023.8 L306.0 1023.7 L308.0 1023.6 L310.0 1023.6 L312.0 1023.5 L314.0 1023.4 L316.0 1023.4 L318.0 1023.3 L320.0 1023.2 L322.0 1023.1 L324.0 1023.1 L326.0 1023.0 L328.0 1022.9 L330.0 1022.8 L332.0 1022.7 L334.0 1022.7 L336.0 1022.6 L338.0 1022.5 L340.0 1022.4 L342.0 1022.3 L344.0 1022.2 L346.0 1022.1 L348.0 1022.1 L350.0 1022.0 L352.0 1021.9 L354.0 1021.8 L356.0 1021.7 L358.0 1021.6 L360.0 1021.5 L362.0 1021.4 L364.0 1021.3 L366.0 1021.2 L368.0 1021.1 L370.0 1021.0 L372.0 1020.9 L374.0 1020.8 L376.0 1020.7 L378.0 1020.6 L380.0 1020.5 L382.0 1020.4 L384.0 1020.3 L386.0 1020.2 L388.0 1020.1 L390.0 1019.9 L392.0 1019.8 L394.0 1019.7 L396.0 1019.6 L398.0 1019.5 L400.0 1019.3 L402.0 1019.2 L404.0 1019.1 L406.0 1018.9 L408.0 1018.8 L410.0 1018.6 L412.0 1018.5 L414.0 1018.3 L416.0 1018.2 L418.0 1018.0 L420.0 1017.9 L422.0 1017.7 L424.0 1017.5 L426.0 1017.4 L428.0 1017.2 L430.0 1017.0 L432.0 1016.8 L433.9 1016.6 L435.9 1016.5 L437.9 1016.3 L439.9 1016.1 L441.8 1015.9 L443.8 1015.7 L445.8 1015.4 L447.8 1015.2 L449.7 1015.0 L451.7 1014.8 L453.7 1014.5 L455.7 1014.3 L457.6 1014.0 L459.6 1013.7 L461.6 1013.4 L463.6 1013.1 L465.5 1012.8 L467.5 1012.5 L469.4 1012.2 L471.3 1011.8 L473.3 1011.4 L475.2 1011.0 L477.1 1010.6 L479.0 1010.2 L481.0 1009.7 L482.9 1009.2 L484.8 1008.7 L486.7 1008.1 L488.7 1007.5 L490.6 1006.9 L492.5 1006.3 L494.4 1005.6 L496.4 1004.9 L498.3 1004.0 L500.3 1003.1 L502.2 1002.2 L504.2 1001.1 L506.1 1000.0 L508.1 998.8 L510.0 997.5 L511.8 996.2 L513.6 994.8 L515.4 993.2 L517.1 991.4 L518.9 989.5 L520.7 987.3 L522.5 985.0 L523.8 983.1 L525.0 980.8 L526.2 978.2 L527.5 975.5 L528.8 972.7 L530.0 970.0 L530.8 968.2 L531.7 966.2 L532.5 964.3 L533.3 962.3 L534.2 960.5 L535.0 958.8 L535.3 958.1 L535.7 957.4 L536.0 956.8 L536.3 956.2 L536.7 955.7 L537.0 955.3 L537.2 955.1 L537.4 955.0 L537.6 954.8 L537.9 954.7 L538.1 954.6 L538.3 954.6 L538.5 954.7 L538.7 954.8 L538.9 955.0 L539.1 955.3 L539.3 955.6 L539.5 956.0 L539.7 956.4 L539.8 957.0 L540.0 957.8 L540.2 958.7 L540.3 959.8 L540.5 961.0 L540.8 963.7 L541.0 967.7 L541.2 972.7 L541.5 978.3 L541.8 984.2 L542.0 990.0 L542.3 997.4 L542.6 1005.7 L542.9 1014.6 L543.2 1023.5 L543.5 1032.1 L543.8 1040.0 L544.1 1047.0 L544.4 1054.1 L544.6 1060.9 L544.9 1067.3 L545.2 1072.9 L545.5 1077.5 L545.8 1081.7 L546.1 1085.5 L546.4 1089.0 L546.7 1092.1 L547.0 1094.6 L547.3 1096.5 L547.5 1097.4 L547.6 1098.2 L547.8 1098.9 L548.0 1099.5 L548.1 1099.9 L548.3 1100.3 L548.4 1100.6 L548.6 1100.8 L548.8 1101.0 L548.9 1101.2 L549.1 1101.3 L549.2 1101.3 L549.4 1101.2 L549.6 1101.1 L549.8 1100.9 L549.9 1100.6 L550.1 1100.3 L550.3 1100.0 L550.7 1099.3 L551.0 1098.3 L551.4 1097.2 L551.8 1096.0 L552.1 1094.7 L552.5 1093.5 L552.9 1092.1 L553.3 1090.6 L553.8 1089.1 L554.2 1087.6 L554.6 1086.2 L555.0 1085.0 L555.8 1083.0 L556.5 1081.2 L557.2 1079.5 L558.0 1077.9 L558.8 1076.4 L559.5 1075.0 L560.4 1073.3 L561.3 1071.8 L562.2 1070.3 L563.2 1068.9 L564.1 1067.6 L565.0 1066.3 L565.9 1065.0 L566.8 1063.8 L567.8 1062.6 L568.7 1061.5 L569.6 1060.5 L570.5 1059.5 L571.7 1058.4 L572.8 1057.3 L574.0 1056.4 L575.2 1055.5 L576.3 1054.6 L577.5 1053.8 L579.3 1052.6 L581.1 1051.5 L582.9 1050.5 L584.6 1049.5 L586.4 1048.6 L588.2 1047.8 L590.0 1047.0 L591.9 1046.2 L593.8 1045.5 L595.6 1044.8 L597.5 1044.2 L599.4 1043.6 L601.2 1043.0 L603.1 1042.5 L605.0 1042.0 L607.0 1041.5 L609.0 1041.0 L611.0 1040.6 L613.0 1040.1 L615.0 1039.7 L617.0 1039.3 L619.0 1039.0 L621.0 1038.6 L623.0 1038.3 L625.0 1038.0 L626.9 1037.7 L628.8 1037.5 L630.6 1037.3 L632.5 1037.1 L634.4 1036.9 L636.3 1036.7 L638.2 1036.5 L640.0 1036.3 L641.9 1036.1 L642.3 1036.1 L642.7 1036.0 L643.1 1035.9 L643.6 1035.9 L644.0 1035.8 L644.4 1035.8 L644.8 1035.7 L645.2 1035.7 L645.6 1035.6 L646.0 1035.6 L646.4 1035.5 L646.8 1035.5 L647.2 1035.4 L647.6 1035.4 L648.1 1035.3 L648.5 1035.3 L648.9 1035.2 L649.3 1035.2 L649.7 1035.1 L650.1 1035.1 L650.5 1035.0 L650.9 1035.0 L651.3 1034.9 L651.7 1034.9 L652.2 1034.9 L652.6 1034.8 L653.0 1034.8 L653.4 1034.7 L653.8 1034.7 L654.2 1034.6 L654.6 1034.6 L655.0 1034.5 L655.4 1034.5 L655.8 1034.4 L656.3 1034.4 L656.7 1034.3 L657.1 1034.3 L657.5 1034.2 L657.9 1034.2 L658.3 1034.1 L658.7 1034.1 L659.1 1034.1 L659.5 1034.0 L660.0 1034.0 L660.4 1033.9 L660.8 1033.9 L661.2 1033.8 L661.6 1033.8 L662.0 1033.7 L662.4 1033.7 L662.8 1033.7 L663.2 1033.6 L663.7 1033.6 L664.1 1033.5 L664.5 1033.5 L664.9 1033.4 L665.3 1033.4 L665.7 1033.3 L666.1 1033.3 L666.5 1033.3 L666.9 1033.2 L667.4 1033.2 L667.8 1033.1 L668.2 1033.1 L668.6 1033.0 L669.0 1033.0 L669.4 1033.0 L669.8 1032.9 L670.2 1032.9 L670.7 1032.8 L671.1 1032.8 L671.5 1032.8 L671.9 1032.7 L672.3 1032.7 L672.7 1032.6 L673.1 1032.6 L673.5 1032.6 L674.0 1032.5 L674.4 1032.5 L674.8 1032.4 L675.2 1032.4 L675.6 1032.4 L676.0 1032.3 L676.4 1032.3 L676.8 1032.2 L677.3 1032.2 L677.7 1032.2 L678.1 1032.1 L678.5 1032.1 L678.9 1032.0 L679.3 1032.0 L679.7 1032.0 L680.1 1031.9 L680.6 1031.9 L681.0 1031.8 L681.4 1031.8 L681.8 1031.8 L682.2 1031.7 L682.6 1031.7 L683.0 1031.7 L683.4 1031.6 L683.9 1031.6 L684.3 1031.5 L684.7 1031.5 L685.1 1031.5 L685.5 1031.4 L685.9 1031.4 L686.3 1031.4 L686.8 1031.3 L687.2 1031.3 L687.6 1031.3 L688.0 1031.2 L688.4 1031.2 L688.8 1031.1 L689.2 1031.1 L689.6 1031.1 L690.1 1031.0 L690.5 1031.0 L690.9 1031.0 L691.3 1030.9 L691.7 1030.9 L692.1 1030.9 L692.5 1030.8 L693.0 1030.8 L693.4 1030.8 L693.8 1030.7 L694.2 1030.7 L694.6 1030.7 L695.0 1030.6 L695.4 1030.6 L695.9 1030.6 L696.3 1030.5 L696.7 1030.5 L697.1 1030.5 L697.5 1030.4 L697.9 1030.4 L698.3 1030.4 L698.8 1030.3 L699.2 1030.3 L699.6 1030.3 L700.0 1030.2 L700.4 1030.2 L700.8 1030.2 L701.2 1030.1 L701.7 1030.1 L702.1 1030.1 L702.5 1030.0 L702.9 1030.0 L703.3 1030.0 L703.7 1029.9 L704.1 1029.9 L704.6 1029.9 L705.0 1029.8 L705.4 1029.8 L705.8 1029.8 L706.2 1029.8 L706.6 1029.7 L707.1 1029.7 L707.5 1029.7 L707.9 1029.6 L708.3 1029.6 L708.7 1029.6 L709.1 1029.5 L709.5 1029.5 L710.0 1029.5 L710.4 1029.5 L710.8 1029.4 L711.2 1029.4 L711.6 1029.4 L712.0 1029.3 L712.4 1029.3 L712.9 1029.3 L713.3 1029.3 L713.7 1029.2 L714.1 1029.2 L714.5 1029.2 L714.9 1029.1 L715.4 1029.1 L715.8 1029.1 L716.2 1029.1 L716.6 1029.0 L717.0 1029.0 L717.4 1029.0 L717.9 1028.9 L718.3 1028.9 L718.7 1028.9 L719.1 1028.9 L719.5 1028.8 L719.9 1028.8 L720.3 1028.8 L720.8 1028.8 L721.2 1028.7 L721.6 1028.7 L722.0 1028.7 L722.4 1028.6 L722.8 1028.6 L723.3 1028.6 L723.7 1028.6 L724.1 1028.5 L724.5 1028.5 L724.9 1028.5 L725.3 1028.5 L725.8 1028.4 L726.2 1028.4 L726.6 1028.4 L727.0 1028.4 L727.4 1028.3 L727.8 1028.3 L728.3 1028.3 L728.7 1028.3 L729.1 1028.2 L729.5 1028.2 L729.9 1028.2 L730.3 1028.2 L730.8 1028.1 L731.2 1028.1 L731.6 1028.1 L732.0 1028.1 L732.4 1028.0 L732.8 1028.0 L733.3 1028.0 L733.7 1028.0 L734.1 1027.9 L734.5 1027.9 L734.9 1027.9 L735.3 1027.9 L735.8 1027.8 L736.2 1027.8 L736.6 1027.8 L737.0 1027.8 L737.4 1027.7 L737.8 1027.7 L738.3 1027.7 L738.7 1027.7 L739.1 1027.7 L739.5 1027.6 L739.9 1027.6 L740.3 1027.6 L740.8 1027.6 L741.2 1027.5 L741.6 1027.5 L742.0 1027.5 L742.4 1027.5 L742.9 1027.5 L743.3 1027.4 L743.7 1027.4 L744.1 1027.4 L744.5 1027.4 L744.9 1027.3 L745.4 1027.3 L745.8 1027.3 L746.2 1027.3 L746.6 1027.3 L747.0 1027.2 L747.4 1027.2 L747.9 1027.2 L748.3 1027.2 L748.7 1027.2 L749.1 1027.1 L749.5 1027.1 L749.9 1027.1 L750.4 1027.1 L750.8 1027.1 L751.2 1027.0 L751.6 1027.0 L752.0 1027.0 L752.5 1027.0 L752.9 1026.9 L753.3 1026.9 L753.7 1026.9 L754.1 1026.9 L754.5 1026.9 L755.0 1026.8 L755.4 1026.8 L755.8 1026.8 L756.2 1026.8 L756.6 1026.8 L757.1 1026.7 L757.5 1026.7 L757.9 1026.7 L758.3 1026.7 L758.7 1026.7 L759.1 1026.7 L759.6 1026.6 L760.0 1026.6 L760.4 1026.6 L760.8 1026.6 L761.2 1026.6 L761.7 1026.5 L762.1 1026.5 L762.5 1026.5 L762.9 1026.5 L763.3 1026.5 L763.7 1026.4 L764.2 1026.4 L764.6 1026.4 L765.0 1026.4 L765.4 1026.4 L765.8 1026.4 L766.3 1026.3 L766.7 1026.3 L767.1 1026.3 L767.5 1026.3 L767.9 1026.3 L768.3 1026.2 L768.8 1026.2 L769.2 1026.2 L769.6 1026.2 L770.0 1026.2 L770.4 1026.2 L770.9 1026.1 L771.3 1026.1 L771.7 1026.1 L772.1 1026.1 L772.5 1026.1 L772.9 1026.1 L773.4 1026.0 L773.8 1026.0 L774.2 1026.0 L774.6 1026.0 L775.0 1026.0 L775.5 1026.0 L775.9 1025.9 L776.3 1025.9 L776.7 1025.9 L777.1 1025.9 L777.6 1025.9 L778.0 1025.9 L778.4 1025.8 L778.8 1025.8 L779.2 1025.8 L779.6 1025.8 L780.1 1025.8 L780.5 1025.8 L780.9 1025.7 L781.3 1025.7 L781.7 1025.7 L782.2 1025.7 L782.6 1025.7 L783.0 1025.7 L783.4 1025.7 L783.8 1025.6 L784.3 1025.6 L784.7 1025.6 L785.1 1025.6 L785.5 1025.6 L785.9 1025.6 L786.3 1025.5 L786.8 1025.5 L787.2 1025.5 L787.6 1025.5 L788.0 1025.5 L788.4 1025.5 L788.9 1025.5 L789.3 1025.4 L789.7 1025.4 L790.1 1025.4 L790.5 1025.4 L791.0 1025.4 L791.4 1025.4 L791.8 1025.3 L792.2 1025.3 L792.6 1025.3 L793.1 1025.3 L793.5 1025.3 L793.9 1025.3 L794.3 1025.3 L794.7 1025.2 L795.2 1025.2 L795.6 1025.2 L796.0 1025.2 L796.4 1025.2 L796.8 1025.2 L797.2 1025.2 L797.7 1025.1 L798.1 1025.1 L798.5 1025.1 L798.9 1025.1 L799.3 1025.1 L799.8 1025.1 L800.2 1025.1 L800.6 1025.0 L801.0 1025.0 L801.4 1025.0 L801.9 1025.0 L802.3 1025.0 L802.7 1025.0 L803.1 1025.0 L803.5 1025.0 L804.0 1024.9 L804.4 1024.9 L804.8 1024.9 L805.2 1024.9 L805.6 1024.9 L806.1 1024.9 L806.5 1024.9 L806.9 1024.8 L807.3 1024.8 L807.7 1024.8 L808.2 1024.8 L808.6 1024.8 L809.0 1024.8 L809.4 1024.8 L809.8 1024.8 L810.2 1024.7 L810.7 1024.7 L811.1 1024.7 L811.5 1024.7 L811.9 1024.7 L812.3 1024.7 L812.8 1024.7 L813.2 1024.7 L813.6 1024.6 L814.0 1024.6 L814.4 1024.6 L814.9 1024.6 L815.3 1024.6 L815.7 1024.6 L816.1 1024.6 L816.5 1024.5 L817.0 1024.5 L817.4 1024.5 L817.8 1024.5 L818.2 1024.5 L818.6 1024.5 L819.1 1024.5 L819.5 1024.5 L819.9 1024.4 L820.3 1024.4 L820.7 1024.4 L821.2 1024.4 L821.6 1024.4 L822.0 1024.4 L822.4 1024.4 L822.8 1024.4 L823.3 1024.4 L823.7 1024.3 L824.1 1024.3 L824.5 1024.3 L824.9 1024.3 L825.4 1024.3 L825.8 1024.3 L826.2 1024.3 L826.6 1024.3 L827.0 1024.2 L827.4 1024.2 L827.9 1024.2 L828.3 1024.2 L828.7 1024.2 L829.1 1024.2 L829.5 1024.2 L830.0 1024.2 L830.4 1024.1 L830.8 1024.1 L831.2 1024.1 L831.6 1024.1 L832.1 1024.1 L832.5 1024.1 L832.9 1024.1 L833.3 1024.1 L833.7 1024.0 L834.2 1024.0 L834.6 1024.0 L835.0 1024.0 L835.4 1024.0 L835.8 1024.0 L836.3 1024.0 L836.7 1024.0 L837.1 1024.0 L837.5 1023.9 L837.9 1023.9 L838.4 1023.9 L838.8 1023.9 L839.2 1023.9 L839.6 1023.9 L840.0 1023.9 L840.5 1023.9 L840.9 1023.8 L841.3 1023.8 L841.7 1023.8 L842.1 1023.8 L842.6 1023.8 L843.0 1023.8 L843.4 1023.8 L843.8 1023.8 L844.2 1023.8 L844.7 1023.7 L845.1 1023.7 L845.5 1023.7 L845.9 1023.7 L846.3 1023.7 L846.7 1023.7 L847.2 1023.7 L847.6 1023.7 L848.0 1023.7 L848.4 1023.6 L848.8 1023.6 L849.3 1023.6 L849.7 1023.6 L850.1 1023.6 L850.5 1023.6 L850.9 1023.6 L851.4 1023.6 L851.8 1023.5 L852.2 1023.5 L852.6 1023.5 L853.0 1023.5 L853.5 1023.5 L853.9 1023.5 L854.3 1023.5 L854.7 1023.5 L855.1 1023.5 L855.6 1023.4 L856.0 1023.4 L856.4 1023.4 L856.8 1023.4 L857.2 1023.4 L857.7 1023.4 L858.1 1023.4 L858.5 1023.4 L858.9 1023.3 L859.3 1023.3 L859.8 1023.3 L860.2 1023.3 L860.6 1023.3 L861.0 1023.3 L861.4 1023.3 L861.8 1023.3 L862.3 1023.3 L862.7 1023.2 L863.1 1023.2 L863.5 1023.2 L863.9 1023.2 L864.4 1023.2 L864.8 1023.2 L865.2 1023.2 L865.6 1023.2 L866.0 1023.1 L866.5 1023.1 L866.9 1023.1 L867.3 1023.1 L867.7 1023.1 L868.1 1023.1 L868.6 1023.1 L869.0 1023.1 L869.4 1023.0 L869.8 1023.0 L870.2 1023.0 L870.7 1023.0 L871.1 1023.0 L871.5 1023.0 L871.9 1023.0 L872.3 1023.0 L872.7 1023.0 L873.2 1022.9 L873.6 1022.9 L874.0 1022.9 L874.4 1022.9 L874.8 1022.9 L875.3 1022.9 L875.7 1022.9 L876.1 1022.9 L876.5 1022.8 L876.9 1022.8 L877.4 1022.8 L877.8 1022.8 L878.2 1022.8 L878.6 1022.8 L879.0 1022.8 L879.5 1022.8 L879.9 1022.7 L880.3 1022.7 L880.7 1022.7 L881.1 1022.7 L881.5 1022.7 L882.0 1022.7 L882.4 1022.7 L882.8 1022.7 L883.2 1022.6 L883.6 1022.6 L884.1 1022.6 L884.5 1022.6 L884.9 1022.6 L885.3 1022.6 L885.7 1022.6 L886.2 1022.6 L886.6 1022.5 L887.0 1022.5 L887.4 1022.5 L887.8 1022.5 L888.2 1022.5 L888.7 1022.5 L889.1 1022.5 L889.5 1022.4 L889.9 1022.4 L890.3 1022.4 L890.8 1022.4 L891.2 1022.4 L891.6 1022.4 L892.0 1022.4 L892.4 1022.4 L892.8 1022.3 L893.3 1022.3 L893.7 1022.3 L894.1 1022.3 L894.5 1022.3 L894.9 1022.3 L895.4 1022.3 L895.8 1022.2 L896.2 1022.2 L896.6 1022.2 L897.0 1022.2 L897.5 1022.2 L897.9 1022.2 L898.3 1022.2 L898.7 1022.1 L899.1 1022.1 L899.5 1022.1 L900.0 1022.1 L900.4 1022.1 L900.8 1022.1 L901.2 1022.1 L901.6 1022.0 L902.1 1022.0 L902.5 1022.0 L902.9 1022.0 L903.3 1022.0 L903.7 1022.0 L904.1 1022.0 L904.6 1021.9 L905.0 1021.9 L905.4 1021.9 L905.8 1021.9 L906.2 1021.9 L906.7 1021.9 L907.1 1021.9 L907.5 1021.8 L907.9 1021.8 L908.3 1021.8 L908.7 1021.8 L909.2 1021.8 L909.6 1021.8 L910.0 1021.8 L910.4 1021.7 L910.8 1021.7 L911.2 1021.7 L911.7 1021.7 L912.1 1021.7 L912.5 1021.7 L912.9 1021.6 L913.3 1021.6 L913.8 1021.6 L914.2 1021.6 L914.6 1021.6 L915.0 1021.6 L915.4 1021.5 L915.8 1021.5 L916.3 1021.5 L916.7 1021.5 L917.1 1021.5 L917.5 1021.5 L917.9 1021.5 L918.3 1021.4 L918.8 1021.4 L919.2 1021.4 L919.6 1021.4 L920.0 1021.4 L920.4 1021.4 L920.8 1021.3 L921.3 1021.3 L921.7 1021.3 L922.1 1021.3 L922.5 1021.3 L922.9 1021.3 L923.4 1021.2 L923.8 1021.2 L924.2 1021.2 L924.6 1021.2 L925.0 1021.2 L925.4 1021.1 L925.9 1021.1 L926.3 1021.1 L926.7 1021.1 L927.1 1021.1 L927.5 1021.1 L927.9 1021.0 L928.4 1021.0 L928.8 1021.0 L929.2 1021.0 L929.6 1021.0 L930.0 1021.0 L930.4 1020.9 L930.9 1020.9 L931.3 1020.9 L931.7 1020.9 L932.1 1020.9 L932.5 1020.8 L932.9 1020.8 L933.4 1020.8 L933.8 1020.8 L934.2 1020.8 L934.6 1020.7 L935.0 1020.7 L935.4 1020.7 L935.9 1020.7 L936.3 1020.7 L936.7 1020.7 L937.1 1020.6 L937.5 1020.6 L937.9 1020.6 L938.3 1020.6 L938.8 1020.6 L939.2 1020.5 L939.6 1020.5 L940.0 1020.5 L940.4 1020.5 L940.8 1020.5 L941.3 1020.4 L941.7 1020.4 L942.1 1020.4 L942.5 1020.4 L942.9 1020.4 L943.3 1020.3 L943.8 1020.3 L944.2 1020.3 L944.6 1020.3 L945.0 1020.3 L945.4 1020.2 L945.8 1020.2 L946.3 1020.2 L946.7 1020.2 L947.1 1020.1 L947.5 1020.1 L947.9 1020.1 L948.3 1020.1 L948.7 1020.1 L949.2 1020.0 L949.6 1020.0 L950.0 1020.0 L950.4 1020.0 L950.8 1019.9 L951.2 1019.9 L951.7 1019.9 L952.1 1019.9 L952.5 1019.9 L952.9 1019.8 L953.3 1019.8 L953.7 1019.8 L954.1 1019.8 L954.6 1019.7 L955.0 1019.7 L955.4 1019.7 L955.8 1019.7 L956.2 1019.7 L956.6 1019.6 L957.0 1019.6 L957.5 1019.6 L957.9 1019.6 L958.3 1019.5 L958.7 1019.5 L959.1 1019.5 L959.5 1019.5 L960.0 1019.4 L960.4 1019.4 L960.8 1019.4 L961.2 1019.4 L961.6 1019.3 L962.0 1019.3 L962.4 1019.3 L962.9 1019.3 L963.3 1019.2 L963.7 1019.2 L964.1 1019.2 L964.5 1019.2 L964.9 1019.1 L965.3 1019.1 L965.8 1019.1 L966.2 1019.1 L966.6 1019.0 L967.0 1019.0 L967.4 1019.0 L967.8 1019.0 L968.2 1018.9 L968.7 1018.9 L969.1 1018.9 L969.5 1018.9 L969.9 1018.8 L970.3 1018.8 L970.7 1018.8 L971.1 1018.7 L971.6 1018.7 L972.0 1018.7 L972.4 1018.7 L972.8 1018.6 L973.2 1018.6 L973.6 1018.6 L974.0 1018.6 L974.4 1018.5 L974.9 1018.5 L975.3 1018.5 L975.7 1018.4 L976.1 1018.4 L976.5 1018.4 L976.9 1018.4 L977.3 1018.3 L977.8 1018.3 L978.2 1018.3 L978.6 1018.2 L979.0 1018.2 L979.4 1018.2 L979.8 1018.2 L980.2 1018.1 L980.6 1018.1 L981.1 1018.1 L981.5 1018.0 L981.9 1018.0 L982.3 1018.0 L982.7 1017.9 L983.1 1017.9 L983.5 1017.9 L983.9 1017.9 L984.4 1017.8 L984.8 1017.8 L985.2 1017.8 L985.6 1017.7 L986.0 1017.7 L986.4 1017.7 L986.8 1017.6 L987.2 1017.6 L987.7 1017.6 L988.1 1017.5 L988.5 1017.5 L988.9 1017.5 L989.3 1017.4 L989.7 1017.4 L990.1 1017.4 L990.5 1017.3 L991.0 1017.3 L991.4 1017.3 L991.8 1017.2 L992.2 1017.2 L992.6 1017.2 L993.0 1017.1 L993.4 1017.1 L993.8 1017.1 L994.3 1017.0 L994.7 1017.0 L995.1 1017.0 L995.5 1016.9 L995.9 1016.9 L996.3 1016.9 L996.7 1016.8 L997.1 1016.8 L997.5 1016.8 L998.0 1016.7 L998.4 1016.7 L998.8 1016.7 L999.2 1016.6 L999.6 1016.6 L1000.0 1016.6 L1000.4 1016.5 L1000.8 1016.5 L1001.2 1016.4 L1001.7 1016.4 L1002.1 1016.4 L1002.5 1016.3 L1002.9 1016.3 L1003.3 1016.3 L1003.7 1016.2 L1004.1 1016.2 L1004.5 1016.2 L1004.9 1016.1 L1005.4 1016.1 L1005.8 1016.0 L1006.2 1016.0 L1006.6 1016.0 L1007.0 1015.9 L1007.4 1015.9 L1007.8 1015.9 L1008.2 1015.8 L1008.6 1015.8 L1009.0 1015.7 L1009.5 1015.7 L1009.9 1015.7 L1010.3 1015.6 L1010.7 1015.6 L1011.1 1015.5 L1011.5 1015.5 L1011.9 1015.5 L1012.3 1015.4 L1012.7 1015.4 L1013.1 1015.3 L1013.6 1015.3 L1014.0 1015.3 L1014.4 1015.2 L1014.8 1015.2 L1015.2 1015.1 L1015.6 1015.1 L1016.0 1015.1 L1016.4 1015.0 L1016.8 1015.0 L1017.2 1014.9 L1017.6 1014.9 L1018.1 1014.8 L1018.5 1014.8 L1018.9 1014.8 L1019.3 1014.7 L1019.7 1014.7 L1020.1 1014.6 L1020.5 1014.6 L1020.9 1014.5 L1021.3 1014.5 L1021.7 1014.5 L1022.1 1014.4 L1022.6 1014.4 L1023.0 1014.3 L1023.4 1014.3 L1023.8 1014.2 L1024.2 1014.2 L1024.6 1014.1 L1025.0 1014.1 L1025.4 1014.1 L1025.8 1014.0 L1026.2 1014.0 L1026.6 1013.9 L1027.0 1013.9 L1027.5 1013.8 L1027.9 1013.8 L1028.3 1013.7 L1028.7 1013.7 L1029.1 1013.6 L1029.5 1013.6 L1029.9 1013.6 L1030.3 1013.5 L1030.7 1013.5 L1031.1 1013.4 L1031.5 1013.4 L1031.9 1013.3 L1032.3 1013.3 L1032.8 1013.2 L1033.2 1013.2 L1033.6 1013.1 L1034.0 1013.1 L1034.4 1013.0 L1034.8 1013.0 L1035.2 1012.9 L1035.6 1012.9 L1036.0 1012.8 L1036.4 1012.8 L1036.8 1012.7 L1037.2 1012.7 L1037.6 1012.6 L1038.0 1012.6 L1038.5 1012.5 L1038.9 1012.5 L1039.3 1012.4 L1039.7 1012.4 L1040.1 1012.3 L1040.5 1012.2 L1040.9 1012.2 L1041.3 1012.1 L1041.7 1012.1 L1042.1 1012.0 L1042.5 1012.0 L1042.9 1011.9 L1043.3 1011.9 L1043.7 1011.8 L1044.1 1011.7 L1044.5 1011.7 L1045.0 1011.6 L1045.4 1011.6 L1045.8 1011.5 L1046.2 1011.4 L1046.6 1011.4 L1047.0 1011.3 L1047.4 1011.3 L1047.8 1011.2 L1048.2 1011.1 L1048.6 1011.1 L1049.0 1011.0 L1049.4 1010.9 L1049.8 1010.9 L1050.2 1010.8 L1050.6 1010.7 L1051.0 1010.7 L1051.4 1010.6 L1051.8 1010.5 L1052.3 1010.5 L1052.7 1010.4 L1053.1 1010.3 L1053.5 1010.3 L1053.9 1010.2 L1054.3 1010.1 L1054.7 1010.0 L1055.1 1010.0 L1055.5 1009.9 L1055.9 1009.8 L1056.3 1009.7 L1056.7 1009.7 L1057.1 1009.6 L1057.5 1009.5 L1057.9 1009.4 L1058.3 1009.3 L1058.7 1009.3 L1059.1 1009.2 L1059.5 1009.1 L1059.9 1009.0 L1060.3 1008.9 L1060.7 1008.8 L1061.1 1008.8 L1061.5 1008.7 L1062.0 1008.6 L1062.4 1008.5 L1062.8 1008.4 L1063.2 1008.3 L1063.6 1008.2 L1064.0 1008.1 L1064.4 1008.0 L1064.8 1007.9 L1065.2 1007.8 L1065.6 1007.7 L1066.0 1007.7 L1066.4 1007.6 L1066.8 1007.5 L1067.2 1007.4 L1067.6 1007.3 L1068.0 1007.2 L1068.4 1007.0 L1068.8 1006.9 L1069.2 1006.8 L1069.6 1006.7 L1070.0 1006.6 L1070.4 1006.5 L1070.8 1006.4 L1071.2 1006.3 L1071.6 1006.2 L1072.0 1006.1 L1072.4 1006.0 L1072.8 1005.8 L1073.2 1005.7 L1073.6 1005.6 L1074.0 1005.5 L1074.4 1005.4 L1074.8 1005.3 L1075.2 1005.1 L1075.6 1005.0 L1076.0 1004.9 L1076.4 1004.8 L1076.8 1004.6 L1077.2 1004.5 L1077.6 1004.4 L1078.0 1004.2 L1078.4 1004.1 L1078.8 1004.0 L1079.2 1003.9 L1079.6 1003.7 L1080.0 1003.6 L1080.4 1003.4 L1080.8 1003.3 L1081.2 1003.2 L1081.6 1003.0 L1082.0 1002.9 L1082.4 1002.7 L1082.8 1002.6 L1083.2 1002.5 L1083.6 1002.3 L1084.0 1002.2 L1084.4 1002.0 L1084.8 1001.9 L1085.2 1001.7 L1085.6 1001.6 L1086.0 1001.4 L1086.3 1001.2 L1086.7 1001.1 L1087.1 1000.9 L1087.5 1000.8 L1087.9 1000.6 L1088.3 1000.4 L1088.7 1000.3 L1089.1 1000.1 L1089.5 999.9 L1089.8 999.8 L1090.2 999.6 L1090.6 999.4 L1091.0 999.3 L1091.4 999.1 L1091.8 998.9 L1092.1 998.7 L1092.5 998.6 L1092.9 998.4 L1093.3 998.2 L1093.7 998.0 L1094.1 997.8 L1094.4 997.6 L1094.8 997.5 L1095.2 997.3 L1095.6 997.1 L1095.9 996.9 L1096.3 996.7 L1096.7 996.5 L1097.1 996.3 L1097.4 996.1 L1097.8 995.9 L1098.2 995.7 L1098.5 995.5 L1098.9 995.3 L1099.3 995.1 L1099.6 994.9 L1100.0 994.7 L1100.4 994.5 L1100.7 994.3 L1101.1 994.1 L1101.5 993.8 L1101.8 993.6 L1102.2 993.4 L1102.6 993.2 L1102.9 993.0 L1103.3 992.8 L1103.6 992.5 L1104.0 992.3 L1104.3 992.1 L1104.7 991.8 L1105.0 991.6 L1105.4 991.4 L1105.7 991.2 L1106.1 990.9 L1106.4 990.7 L1106.8 990.4 L1107.1 990.2 L1107.5 990.0 L1107.8 989.7 L1108.2 989.5 L1108.5 989.2 L1108.9 989.0 L1109.2 988.7 L1109.5 988.5 L1109.9 988.2 L1110.2 988.0 L1110.5 987.7 L1110.9 987.5 L1111.2 987.2 L1111.5 987.0 L1111.9 986.7 L1112.2 986.4 L1112.5 986.2 L1112.8 985.9 L1113.2 985.6 L1113.5 985.4 L1113.8 985.1 L1114.1 984.8 L1114.4 984.6 L1114.8 984.3 L1115.1 984.0 L1115.4 983.7 L1115.7 983.5 L1116.0 983.2 L1116.3 982.9 L1116.6 982.6 L1116.9 982.3 L1117.2 982.0 L1117.6 981.8 L1117.9 981.5 L1118.2 981.2 L1118.5 980.9 L1118.8 980.6 L1119.1 980.3 L1119.3 980.0 L1119.6 979.7 L1119.9 979.4 L1120.2 979.1 L1120.5 978.8 L1120.8 978.5 L1121.1 978.2 L1121.4 977.9 L1121.7 977.6 L1121.9 977.3 L1122.2 977.0 L1122.5 976.7 L1122.8 976.4 L1123.0 976.1 L1123.3 975.7 L1123.6 975.4 L1123.9 975.1 L1124.1 974.8 L1124.4 974.5 L1124.7 974.2 L1124.9 973.8 L1125.2 973.5 L1125.4 973.2 L1125.7 972.9 L1125.9 972.6 L1126.2 972.2 L1126.5 971.9 L1126.7 971.6 L1127.0 971.2 L1127.2 970.9 L1127.4 970.6 L1127.7 970.3 L1127.9 969.9 L1128.2 969.6 L1128.4 969.2 L1128.6 968.9 L1128.9 968.6 L1129.1 968.2 L1129.3 967.9 L1129.6 967.5 L1129.8 967.2 L1130.0 966.9 L1130.2 966.5 L1130.5 966.2 L1130.7 965.8 L1130.9 965.5 L1131.1 965.1 L1131.3 964.8 L1131.5 964.4 L1131.8 964.1 L1132.0 963.7 L1132.2 963.4 L1132.4 963.0 L1132.6 962.7 L1132.8 962.3 L1133.0 962.0 L1133.2 961.6 L1133.4 961.2 L1133.6 960.9 L1133.8 960.5 L1134.0 960.2 L1134.2 959.8 L1134.4 959.4 L1134.6 959.0 L1134.7 958.7 L1134.9 958.3 L1135.1 958.0 L1135.3 957.6 L1135.5 957.2 L1135.7 956.8 L1135.9 956.5 L1136.0 956.1 L1136.2 955.7 L1136.4 955.4 L1136.6 955.0 L1136.7 954.6 L1136.9 954.2 L1137.1 953.9 L1137.2 953.5 L1137.4 953.1 L1137.6 952.7 L1137.8 952.3 L1137.9 952.0 L1138.1 951.6 L1138.2 951.2 L1138.4 950.8 L1138.6 950.4 L1138.7 950.1 L1138.9 949.7 L1139.0 949.3 L1139.2 948.9 L1139.3 948.5 L1139.5 948.1 L1139.6 947.7 L1139.8 947.4 L1139.9 947.0 L1140.1 946.6 L1140.2 946.2 L1140.4 945.8 L1140.5 945.4 L1140.7 945.0 L1140.8 944.6 L1141.0 944.2 L1141.1 943.8 L1141.2 943.4 L1141.4 943.0 L1141.5 942.7 L1141.6 942.3 L1141.8 941.9 L1141.9 941.5 L1142.0 941.1 L1142.2 940.7 L1142.3 940.3 L1142.4 939.9 L1142.6 939.5 L1142.7 939.1 L1142.8 938.7 L1142.9 938.3 L1143.1 937.9 L1143.2 937.5 L1143.3 937.1 L1143.4 936.7 L1143.6 936.3 L1143.7 935.9 L1143.8 935.5 L1143.9 935.1 L1144.0 934.7 L1144.2 934.3 L1144.3 933.9 L1144.4 933.4 L1144.5 933.0 L1144.6 932.6 L1144.7 932.2 L1144.8 931.8 L1145.0 931.4 L1145.1 931.0 L1145.2 930.6 L1145.3 930.2 L1145.4 929.8 L1145.5 929.4 L1145.6 929.0 L1145.7 928.6 L1145.8 928.2 L1145.9 927.7 L1146.0 927.3 L1146.1 926.9 L1146.2 926.5 L1146.3 926.1 L1146.4 925.7 L1146.5 925.3 L1146.6 924.9 L1146.7 924.5 L1146.8 924.0 L1146.9 923.6 L1147.0 923.2 L1147.1 922.8 L1147.2 922.4 L1147.3 922.0 L1147.4 921.6 L1147.5 921.2 L1147.6 920.8 L1147.7 920.3 L1147.8 919.9 L1147.9 919.5 L1148.0 919.1 L1148.1 918.7 L1148.2 918.3 L1148.3 917.9 L1148.3 917.5 L1148.4 917.0 L1148.5 916.6 L1148.6 916.2 L1148.7 915.8 L1148.8 915.4 L1148.9 915.0 L1149.0 914.6 L1149.1 914.1 L1149.1 913.7 L1149.2 913.3 L1149.3 912.9 L1149.4 912.5 L1149.5 912.1 L1149.6 911.7 L1149.7 911.2 L1149.7 910.8 L1149.8 910.4 L1149.9 910.0 L1150.0 909.6 L1150.1 909.2 L1150.2 908.8 L1150.3 908.4 L1150.3 908.0 L1150.4 907.5 L1150.5 907.1 L1150.6 906.7 L1150.7 906.3 L1150.8 905.9 L1150.8 905.5 L1150.9 905.1 L1151.0 904.7 L1151.1 904.2 L1151.2 903.8 L1151.2 903.4 L1151.3 903.0 L1151.4 902.6 L1151.5 902.2 L1151.6 901.8 L1151.6 901.4 L1151.7 901.0 L1151.8 900.6 L1151.9 900.1 L1152.0 899.7 L1152.0 899.3 L1152.1 898.9 L1152.2 898.5 L1152.3 898.1 L1152.4 897.7 L1152.4 897.3 L1152.5 896.9 L1152.6 896.5 L1152.7 896.1 L1152.8 895.6 L1152.8 895.2 L1152.9 894.8 L1153.0 894.4 L1153.1 894.0 L1153.2 893.6 L1153.2 893.2 L1153.3 892.8 L1153.4 892.4 L1153.5 892.0 L1153.6 891.6 L1153.6 891.2 L1153.7 890.7 L1153.8 890.3 L1153.9 889.9 L1153.9 889.5 L1154.0 889.1 L1154.1 888.7 L1154.2 888.3 L1154.3 887.9 L1154.3 887.5 L1154.4 887.1 L1154.5 886.7 L1154.6 886.3 L1154.7 885.9 L1154.7 885.5 L1154.8 885.1 L1154.9 884.6 L1155.0 884.2 L1155.0 883.8 L1155.1 883.4 L1155.2 883.0 L1155.3 882.6 L1155.4 882.2 L1155.4 881.8 L1155.5 881.4 L1155.6 881.0 L1155.7 880.6 L1155.8 880.2 L1155.8 879.8 L1155.9 879.4 L1156.0 879.0 L1156.1 878.6 L1156.2 878.2 L1156.2 877.8 L1156.3 877.3 L1156.4 876.9 L1156.5 876.5 L1156.6 876.1 L1156.6 875.7 L1156.7 875.3 L1156.8 874.9 L1156.9 874.5 L1157.0 874.1 L1157.0 873.7 L1157.1 873.3 L1157.2 872.9 L1157.3 872.5 L1157.4 872.1 L1157.5 871.7 L1157.5 871.3 L1157.6 870.9 L1157.7 870.5 L1157.8 870.1 L1157.9 869.7 L1157.9 869.3 L1158.0 868.8 L1158.1 868.4 L1158.2 868.0 L1158.3 867.6 L1158.4 867.2 L1158.5 866.8 L1158.5 866.4 L1158.6 866.0 L1158.7 865.6 L1158.8 865.2 L1158.9 864.8 L1159.0 864.4 L1159.1 864.0 L1159.1 863.6 L1159.2 863.2 L1159.3 862.8 L1159.4 862.4 L1159.5 862.0 L1159.6 861.6 L1159.7 861.2 L1159.8 860.8 L1159.8 860.4 L1159.9 860.0 L1160.0 859.6 L1160.1 859.1 L1160.2 858.7 L1160.3 858.3 L1160.4 857.9 L1160.5 857.5 L1160.6 857.1 L1160.7 856.7 L1160.8 856.3 L1160.8 855.9 L1160.9 855.5 L1161.0 855.1 L1161.1 854.7 L1161.2 854.3 L1161.3 853.9 L1161.4 853.5 L1161.5 853.1 L1161.6 852.7 L1161.7 852.3 L1161.8 851.9 L1161.9 851.5 L1162.0 851.1 L1162.1 850.7 L1162.2 850.3 L1162.3 849.9 L1162.4 849.4 L1162.5 849.0 L1162.6 848.6 L1162.7 848.2 L1162.8 847.8 L1162.9 847.4 L1163.0 847.0 L1163.1 846.6 L1163.2 846.2 L1163.3 845.8 L1163.4 845.4 L1163.5 845.0 L1163.6 844.6 L1163.7 844.2 L1163.8 843.8 L1163.9 843.4 L1164.0 843.0 L1164.1 842.6 L1164.2 842.2 L1164.4 841.7 L1164.5 841.3 L1164.6 840.9 L1164.7 840.5 L1164.8 840.1 L1164.9 839.7 L1165.0 839.3 L1165.1 838.9 L1165.2 838.5 L1165.3 838.1 L1165.5 837.7 L1165.6 837.3 L1165.7 836.9 L1165.8 836.5 L1165.9 836.1 L1166.0 835.7 L1166.2 835.3 L1166.3 834.9 L1166.4 834.4 L1166.5 834.0 L1166.6 833.6 L1166.7 833.2 L1166.9 832.8 L1167.0 832.4 L1167.1 832.0 L1167.2 831.6 L1167.4 831.2 L1167.5 830.8 L1167.6 830.4 L1167.7 830.0 L1167.9 829.6 L1168.0 829.2 L1168.1 828.8 L1168.2 828.4 L1168.4 828.0 L1168.5 827.6 L1168.6 827.2 L1168.8 826.8 L1168.9 826.4 L1169.0 826.0 L1169.2 825.6 L1169.3 825.2 L1169.4 824.8 L1169.6 824.4 L1169.7 824.0 L1169.9 823.6 L1170.0 823.2 L1170.1 822.8 L1170.3 822.4 L1170.4 822.0 L1170.6 821.6 L1170.7 821.2 L1170.9 820.8 L1171.0 820.4 L1171.1 820.0 L1171.3 819.6 L1171.4 819.2 L1171.6 818.8 L1171.7 818.4 L1171.9 818.0 L1172.1 817.6 L1172.2 817.2 L1172.4 816.8 L1172.5 816.4 L1172.7 816.0 L1172.8 815.6 L1173.0 815.2 L1173.2 814.9 L1173.3 814.5 L1173.5 814.1 L1173.6 813.7 L1173.8 813.3 L1174.0 812.9 L1174.1 812.5 L1174.3 812.1 L1174.5 811.8 L1174.6 811.4 L1174.8 811.0 L1175.0 810.6 L1175.2 810.2 L1175.3 809.8 L1175.5 809.5 L1175.7 809.1 L1175.9 808.7 L1176.1 808.3 L1176.2 807.9 L1176.4 807.6 L1176.6 807.2 L1176.8 806.8 L1177.0 806.4 L1177.2 806.1 L1177.4 805.7 L1177.5 805.3 L1177.7 805.0 L1177.9 804.6 L1178.1 804.2 L1178.3 803.8 L1178.5 803.5 L1178.7 803.1 L1178.9 802.7 L1179.1 802.4 L1179.3 802.0 L1179.5 801.6 L1179.7 801.3 L1179.9 800.9 L1180.1 800.6 L1180.4 800.2 L1180.6 799.8 L1180.8 799.5 L1181.0 799.1 L1181.2 798.8 L1181.4 798.4 L1181.6 798.1 L1181.9 797.7 L1182.1 797.3 L1182.3 797.0 L1182.5 796.6 L1182.8 796.3 L1183.0 795.9 L1183.2 795.6 L1183.5 795.3 L1183.7 794.9 L1183.9 794.6 L1184.1 794.2 L1184.4 793.9 L1184.6 793.5 L1184.9 793.2 L1185.1 792.9 L1185.3 792.5 L1185.6 792.2 L1185.8 791.9 L1186.1 791.5 L1186.3 791.2 L1186.6 790.9 L1186.8 790.5 L1187.1 790.2 L1187.3 789.9 L1187.6 789.6 L1187.8 789.2 L1188.1 788.9 L1188.4 788.6 L1188.6 788.3 L1188.9 788.0 L1189.2 787.6 L1189.4 787.3 L1189.7 787.0 L1189.9 786.7 L1190.2 786.4 L1190.5 786.1 L1190.8 785.8 L1191.0 785.5 L1191.3 785.2 L1191.6 784.9 L1191.9 784.6 L1192.1 784.3 L1192.4 783.9 L1192.7 783.6 L1193.0 783.4 L1193.3 783.1 L1193.6 782.8 L1193.8 782.5 L1194.1 782.2 L1194.4 781.9 L1194.7 781.6 L1195.0 781.3 L1195.3 781.0 L1195.6 780.8 L1195.9 780.5 L1196.2 780.2 L1196.5 779.9 L1196.8 779.6 L1197.1 779.4 L1197.4 779.1 L1197.7 778.8 L1198.0 778.5 L1198.3 778.3 L1198.6 778.0 L1198.9 777.7 L1199.2 777.5 L1199.6 777.2 L1199.9 777.0 L1200.2 776.7 L1200.5 776.4 L1200.8 776.2 L1201.1 775.9 L1201.5 775.7 L1201.8 775.4 L1202.1 775.2 L1202.4 774.9 L1202.8 774.7 L1203.1 774.5 L1203.4 774.2 L1203.7 774.0 L1204.1 773.7 L1204.4 773.5 L1204.7 773.3 L1205.1 773.0 L1205.4 772.8 L1205.8 772.6 L1206.1 772.4 L1206.4 772.1 L1206.8 771.9 L1207.1 771.7 L1207.5 771.5 L1207.8 771.3 L1208.1 771.0 L1208.5 770.8 L1208.8 770.6 L1209.2 770.4 L1209.5 770.2 L1209.9 770.0 L1210.2 769.8 L1210.6 769.6 L1210.9 769.4 L1211.3 769.2 L1211.7 769.0 L1212.0 768.8 L1212.4 768.6 L1212.7 768.4 L1213.1 768.2 L1213.5 768.0 L1213.8 767.8 L1214.2 767.7 L1214.6 767.5 L1214.9 767.3 L1215.3 767.1 L1215.7 766.9 L1216.0 766.7 L1216.4 766.6 L1216.8 766.4 L1217.1 766.2 L1217.5 766.0 L1217.9 765.9 L1218.3 765.7 L1218.6 765.5 L1219.0 765.4 L1219.4 765.2 L1219.8 765.0 L1220.1 764.9 L1220.5 764.7 L1220.9 764.6 L1221.3 764.4 L1221.7 764.2 L1222.0 764.1 L1222.4 763.9 L1222.8 763.8 L1223.2 763.6 L1223.6 763.5 L1224.0 763.3 L1224.3 763.2 L1224.7 763.0 L1225.1 762.9 L1225.5 762.8 L1225.9 762.6 L1226.3 762.5 L1226.7 762.3 L1227.1 762.2 L1227.5 762.1 L1227.9 761.9 L1228.3 761.8 L1228.6 761.7 L1229.0 761.5 L1229.4 761.4 L1229.8 761.3 L1230.2 761.1 L1230.6 761.0 L1231.0 760.9 L1231.4 760.8 L1231.8 760.6 L1232.2 760.5 L1232.6 760.4 L1233.0 760.3 L1233.4 760.2 L1233.8 760.0 L1234.2 759.9 L1234.6 759.8 L1235.0 759.7 L1235.4 759.6 L1235.8 759.5 L1236.2 759.4 L1236.6 759.3 L1237.0 759.1 L1237.4 759.0 L1237.9 758.9 L1238.3 758.8 L1238.7 758.7 L1239.1 758.6 L1239.5 758.5 L1239.9 758.4 L1240.3 758.3 L1240.7 758.2 L1241.1 758.1 L1241.5 758.0 L1241.9 757.9 L1242.3 757.8 L1242.7 757.7 L1243.1 757.6 L1243.6 757.5 L1244.0 757.5 L1244.4 757.4 L1244.8 757.3 L1245.2 757.2 L1245.6 757.1 L1246.0 757.0 L1246.4 756.9 L1246.8 756.8 L1247.2 756.8 L1247.7 756.7 L1248.1 756.6 L1248.5 756.5 L1248.9 756.4 L1249.3 756.3 L1249.7 756.3 L1250.1 756.2 L1250.5 756.1 L1250.9 756.0 L1251.4 756.0 L1251.8 755.9 L1252.2 755.8 L1252.6 755.7 L1253.0 755.7 L1253.4 755.6 L1253.8 755.5 L1254.3 755.4 L1254.7 755.4 L1255.1 755.3 L1255.5 755.2 L1255.9 755.2 L1256.3 755.1 L1256.7 755.0 L1257.1 755.0 L1257.6 754.9 L1258.0 754.8 L1258.4 754.8 L1258.8 754.7 L1259.2 754.6 L1259.6 754.6 L1260.0 754.5 L1260.5 754.4 L1260.9 754.4 L1261.3 754.3 L1261.7 754.3 L1262.1 754.2 L1262.5 754.1 L1263.0 754.1 L1263.4 754.0 L1263.8 754.0 L1264.2 753.9 L1264.6 753.8 L1265.0 753.8 L1265.5 753.7 L1265.9 753.7 L1266.3 753.6 L1266.7 753.6 L1267.1 753.5 L1267.5 753.5 L1267.9 753.4 L1268.4 753.4 L1268.8 753.3 L1269.2 753.2 L1269.6 753.2 L1270.0 753.1 L1270.4 753.1 L1270.9 753.0 L1271.3 753.0 L1271.7 752.9 L1272.1 752.9 L1272.5 752.8 L1272.9 752.8 L1273.4 752.7 L1273.8 752.7 L1274.2 752.6 L1274.6 752.6 L1275.0 752.6 L1275.5 752.5 L1275.9 752.5 L1276.3 752.4 L1276.7 752.4 L1277.1 752.3 L1277.5 752.3 L1278.0 752.2 L1278.4 752.2 L1278.8 752.1 L1279.2 752.1 L1279.6 752.0 L1280.0 752.0 L1280.5 751.9 L1280.9 751.9 L1281.3 751.9 L1281.7 751.8 L1282.1 751.8 L1282.5 751.7 L1283.0 751.7 L1283.4 751.6 L1283.8 751.6 L1284.2 751.5 L1284.6 751.5 L1285.1 751.5 L1285.5 751.4 L1285.9 751.4 L1286.3 751.3 L1286.7 751.3 L1287.1 751.2 L1287.6 751.2 L1288.0 751.2 L1288.4 751.1 L1288.8 751.1 L1289.2 751.0 L1289.6 751.0 L1290.1 750.9 L1290.5 750.9 L1290.9 750.8 L1291.3 750.8 L1291.7 750.8 L1292.1 750.7 L1292.6 750.7 L1293.0 750.6 L1293.4 750.6 L1293.8 750.6 L1294.2 750.5 L1294.6 750.5 L1295.1 750.4 L1295.5 750.4 L1295.9 750.3 L1296.3 750.3 L1296.7 750.3 L1297.1 750.2 L1297.6 750.2 L1298.0 750.1 L1298.4 750.1 L1298.8 750.1 L1299.2 750.0 L1299.6 750.0 L1300.1 749.9 L1300.5 749.9 L1300.9 749.9 L1301.3 749.8 L1301.7 749.8 L1302.2 749.7 L1302.6 749.7 L1303.0 749.7 L1303.4 749.6 L1303.8 749.6 L1304.2 749.5 L1304.7 749.5 L1305.1 749.5 L1305.5 749.4 L1305.9 749.4 L1306.3 749.3 L1306.7 749.3 L1307.2 749.3 L1307.6 749.2 L1308.0 749.2 L1308.4 749.2 L1308.8 749.1 L1309.2 749.1 L1309.7 749.0 L1310.1 749.0 L1310.5 749.0 L1310.9 748.9 L1311.3 748.9 L1311.7 748.9 L1312.2 748.8 L1312.6 748.8 L1313.0 748.7 L1313.4 748.7 L1313.8 748.7 L1314.2 748.6 L1314.7 748.6 L1315.1 748.6 L1315.5 748.5 L1315.9 748.5 L1316.3 748.4 L1316.7 748.4 L1317.2 748.4 L1317.6 748.3 L1318.0 748.3 L1318.4 748.3 L1318.8 748.2 L1319.2 748.2 L1319.7 748.2 L1320.1 748.1 L1320.5 748.1 L1320.9 748.1 L1321.3 748.0 L1321.7 748.0 L1322.2 747.9 L1322.6 747.9 L1323.0 747.9 L1323.4 747.8 L1323.8 747.8 L1324.2 747.8 L1324.7 747.7 L1325.1 747.7 L1325.5 747.7 L1325.9 747.6 L1326.3 747.6 L1326.7 747.6 L1327.2 747.5 L1327.6 747.5 L1328.0 747.5 L1328.4 747.4 L1328.8 747.4 L1329.2 747.4 L1329.7 747.3 L1330.1 747.3 L1330.5 747.3 L1330.9 747.2 L1331.3 747.2 L1331.7 747.2 L1332.2 747.1 L1332.6 747.1 L1333.0 747.1 L1333.4 747.0 L1333.8 747.0 L1334.2 747.0 L1334.7 746.9 L1335.1 746.9 L1335.5 746.9 L1335.9 746.9 L1336.3 746.8 L1336.7 746.8 L1337.2 746.8 L1337.6 746.7 L1338.0 746.7 L1338.4 746.7 L1338.8 746.6 L1339.2 746.6 L1339.6 746.6 L1340.1 746.5 L1340.5 746.5 L1340.9 746.5 L1341.3 746.4 L1341.7 746.4 L1342.1 746.4 L1342.6 746.4 L1343.0 746.3 L1343.4 746.3 L1343.8 746.3 L1344.2 746.2 L1344.6 746.2 L1345.1 746.2 L1345.5 746.1 L1345.9 746.1 L1346.3 746.1 L1346.7 746.1 L1347.1 746.0 L1347.6 746.0 L1348.0 746.0 L1348.4 745.9 L1348.8 745.9 L1349.2 745.9 L1349.6 745.9 L1350.1 745.8 L1350.5 745.8 L1350.9 745.8 L1351.3 745.7 L1351.7 745.7 L1352.1 745.7 L1352.6 745.7 L1353.0 745.6 L1353.4 745.6 L1353.8 745.6 L1354.2 745.5 L1354.6 745.5 L1355.1 745.5 L1355.5 745.5 L1355.9 745.4 L1356.3 745.4 L1356.7 745.4 L1357.1 745.3 L1357.5 745.3 L1358.0 745.3 L1358.4 745.3 L1358.8 745.2 L1359.2 745.2 L1359.6 745.2 L1360.0 745.2 L1360.5 745.1 L1360.9 745.1 L1361.3 745.1 L1361.7 745.1 L1362.1 745.0 L1362.5 745.0 L1363.0 745.0 L1363.4 744.9 L1363.8 744.9 L1364.2 744.9 L1364.6 744.9 L1365.0 744.8 L1365.5 744.8 L1365.9 744.8 L1366.3 744.8 L1366.7 744.7 L1367.1 744.7 L1367.5 744.7 L1368.0 744.7 L1368.4 744.6 L1368.8 744.6 L1369.2 744.6 L1369.6 744.6 L1370.0 744.5 L1370.4 744.5 L1370.9 744.5 L1371.3 744.5 L1371.7 744.4 L1372.1 744.4 L1372.5 744.4 L1372.9 744.4 L1373.4 744.3 L1373.8 744.3 L1374.2 744.3 L1374.6 744.3 L1375.0 744.3 L1375.4 744.2 L1375.9 744.2 L1376.3 744.2 L1376.7 744.2 L1377.1 744.1 L1377.5 744.1 L1377.9 744.1 L1378.3 744.1 L1378.8 744.0 L1379.2 744.0 L1379.6 744.0 L1380.0 744.0 L1380.4 744.0 L1380.8 743.9 L1381.3 743.9 L1381.7 743.9 L1382.1 743.9 L1382.5 743.8 L1382.9 743.8 L1383.3 743.8 L1383.8 743.8 L1384.2 743.7 L1384.6 743.7 L1385.0 743.7 L1385.4 743.7 L1385.8 743.7 L1386.3 743.6 L1386.7 743.6 L1387.1 743.6 L1387.5 743.6 L1387.9 743.6 L1388.3 743.5 L1388.7 743.5 L1389.2 743.5 L1389.6 743.5 L1390.0 743.4 L1390.4 743.4 L1390.8 743.4 L1391.2 743.4 L1391.7 743.4 L1392.1 743.3 L1392.5 743.3 L1392.9 743.3 L1393.3 743.3 L1393.7 743.3 L1394.2 743.2 L1394.6 743.2 L1395.0 743.2 L1395.4 743.2 L1395.8 743.2 L1396.2 743.1 L1396.6 743.1 L1397.1 743.1 L1397.5 743.1 L1397.9 743.1 L1398.3 743.0 L1398.7 743.0 L1399.1 743.0 L1399.6 743.0 L1400.0 743.0 L1400.4 742.9 L1400.8 742.9 L1401.2 742.9 L1401.6 742.9 L1402.1 742.9 L1402.5 742.9 L1402.9 742.8 L1403.3 742.8 L1403.7 742.8 L1404.1 742.8 L1404.5 742.8 L1405.0 742.7 L1405.4 742.7 L1405.8 742.7 L1406.2 742.7 L1406.6 742.7 L1407.0 742.6 L1407.5 742.6 L1407.9 742.6 L1408.3 742.6 L1408.7 742.6 L1409.1 742.6 L1409.5 742.5 L1410.0 742.5 L1410.4 742.5 L1410.8 742.5 L1411.2 742.5 L1411.6 742.5 L1412.0 742.4 L1412.4 742.4 L1412.9 742.4 L1413.3 742.4 L1413.7 742.4 L1414.1 742.3 L1414.5 742.3 L1414.9 742.3 L1415.4 742.3 L1415.8 742.3 L1416.2 742.3 L1416.6 742.2 L1417.0 742.2 L1417.4 742.2 L1417.8 742.2 L1418.3 742.2 L1418.7 742.2 L1419.1 742.1 L1419.5 742.1 L1419.9 742.1 L1420.3 742.1 L1420.8 742.1 L1421.2 742.1 L1421.6 742.1 L1422.0 742.0 L1422.4 742.0 L1422.8 742.0 L1423.3 742.0 L1423.7 742.0 L1424.1 742.0 L1424.5 741.9 L1424.9 741.9 L1425.3 741.9 L1425.7 741.9 L1426.2 741.9 L1426.6 741.9 L1427.0 741.9 L1427.4 741.8 L1427.8 741.8 L1428.2 741.8 L1428.7 741.8 L1429.1 741.8 L1429.5 741.8 L1429.9 741.7 L1430.3 741.7 L1430.7 741.7 L1431.1 741.7 L1431.6 741.7 L1432.0 741.7 L1432.4 741.7 L1432.8 741.6 L1433.2 741.6 L1433.6 741.6 L1434.1 741.6 L1434.5 741.6 L1434.9 741.6 L1435.3 741.6 L1435.7 741.5 L1436.1 741.5 L1436.6 741.5 L1437.0 741.5 L1437.4 741.5 L1437.8 741.5 L1438.2 741.5 L1438.6 741.5 L1439.0 741.4 L1439.5 741.4 L1439.9 741.4 L1440.3 741.4 L1440.7 741.4 L1441.1 741.4 L1441.5 741.4 L1442.0 741.3 L1442.4 741.3 L1442.8 741.3 L1443.2 741.3 L1443.6 741.3 L1444.0 741.3 L1444.4 741.3 L1444.9 741.3 L1445.3 741.2 L1445.7 741.2 L1446.1 741.2 L1446.5 741.2 L1446.9 741.2 L1447.4 741.2 L1447.8 741.2 L1448.2 741.2 L1448.6 741.1 L1449.0 741.1 L1449.4 741.1 L1449.9 741.1 L1450.3 741.1 L1450.7 741.1 L1451.1 741.1 L1451.5 741.1 L1451.9 741.0 L1452.3 741.0 L1452.8 741.0 L1453.2 741.0 L1453.6 741.0 L1454.0 741.0 L1454.4 741.0 L1454.8 741.0 L1455.3 741.0 L1455.7 740.9 L1456.1 740.9 L1456.5 740.9 L1456.9 740.9 L1457.3 740.9 L1457.7 740.9 L1458.2 740.9 L1458.6 740.9 L1459.0 740.9 L1459.4 740.8 L1459.8 740.8 L1460.2 740.8 L1460.7 740.8 L1461.1 740.8 L1461.5 740.8 L1461.9 740.8 L1462.3 740.8 L1462.7 740.8 L1463.1 740.8 L1463.6 740.7 L1464.0 740.7 L1464.4 740.7 L1464.8 740.7 L1465.2 740.7 L1465.6 740.7 L1466.1 740.7 L1466.5 740.7 L1466.9 740.7 L1467.3 740.6 L1467.7 740.6 L1468.1 740.6 L1468.6 740.6 L1469.0 740.6 L1469.4 740.6 L1469.8 740.6 L1470.2 740.6 L1470.6 740.6 L1471.0 740.6 L1471.5 740.6 L1471.9 740.5 L1472.3 740.5 L1472.7 740.5 L1473.1 740.5 L1473.5 740.5 L1474.0 740.5 L1474.4 740.5 L1474.8 740.5 L1475.2 740.5 L1475.6 740.5 L1476.0 740.5 L1476.4 740.4 L1476.9 740.4 L1477.3 740.4 L1477.7 740.4 L1478.1 740.4 L1478.5 740.4 L1478.9 740.4 L1479.4 740.4 L1479.8 740.4 L1480.2 740.4 L1480.6 740.4 L1481.0 740.3 L1481.4 740.3 L1481.8 740.3 L1482.3 740.3 L1482.7 740.3 L1483.1 740.3 L1483.5 740.3 L1483.9 740.3 L1484.3 740.3 L1484.8 740.3 L1485.2 740.3 L1485.6 740.3 L1486.0 740.2 L1486.4 740.2 L1486.8 740.2 L1487.3 740.2 L1487.7 740.2 L1488.1 740.2 L1488.5 740.2 L1488.9 740.2 L1489.3 740.2 L1489.7 740.2 L1490.2 740.2 L1490.6 740.2 L1491.0 740.2 L1491.4 740.1 L1491.8 740.1 L1492.2 740.1 L1492.7 740.1 L1493.1 740.1 L1493.5 740.1 L1493.9 740.1 L1494.3 740.1 L1494.7 740.1 L1495.1 740.1 L1495.6 740.1 L1496.0 740.1 L1496.4 740.1 L1496.8 740.1 L1497.2 740.0 L1497.6 740.0 L1498.1 740.0 L1498.5 740.0 L1498.9 740.0 L1499.3 740.0 L1499.7 740.0 L1500.1 740.0 L1500.6 740.0 L1501.0 740.0 L1501.4 740.0 L1501.8 740.0 L1502.2 740.0 L1502.6 740.0 L1503.0 739.9 L1503.5 739.9 L1503.9 739.9 L1504.3 739.9 L1504.7 739.9 L1505.1 739.9 L1505.5 739.9 L1506.0 739.9 L1506.4 739.9 L1506.8 739.9 L1507.2 739.9 L1507.6 739.9 L1508.0 739.9 L1508.4 739.9 L1508.9 739.9 L1509.3 739.9 L1509.7 739.8 L1510.1 739.8 L1510.5 739.8 L1510.9 739.8 L1511.4 739.8 L1511.8 739.8 L1512.2 739.8 L1512.6 739.8 L1513.0 739.8 L1513.4 739.8 L1513.9 739.8 L1514.3 739.8 L1514.7 739.8 L1515.1 739.8 L1515.5 739.8 L1515.9 739.8 L1516.3 739.8 L1516.8 739.7 L1517.2 739.7 L1517.6 739.7 L1518.0 739.7 L1518.4 739.7 L1518.8 739.7 L1519.3 739.7 L1519.7 739.7 L1520.1 739.7 L1520.5 739.7 L1520.9 739.7 L1521.3 739.7 L1521.8 739.7 L1522.2 739.7 L1522.6 739.7 L1523.0 739.7 L1523.4 739.7 L1523.8 739.7 L1524.2 739.7 L1524.7 739.6 L1525.1 739.6 L1525.5 739.6 L1525.9 739.6 L1526.3 739.6 L1526.7 739.6 L1527.2 739.6 L1527.6 739.6 L1528.0 739.6 L1528.4 739.6 L1528.8 739.6 L1529.2 739.6 L1529.7 739.6 L1530.1 739.6 L1530.5 739.6 L1530.9 739.6 L1531.3 739.6 L1531.7 739.6 L1532.1 739.6 L1532.6 739.6 L1533.0 739.6 L1533.4 739.5 L1533.8 739.5 L1534.2 739.5 L1534.6 739.5 L1535.1 739.5 L1535.5 739.5 L1535.9 739.5 L1536.3 739.5 L1536.7 739.5 L1537.1 739.5 L1537.6 739.5 L1538.0 739.5 L1538.4 739.5 L1538.8 739.5 L1539.2 739.5 L1539.6 739.5 L1540.0 739.5 L1540.5 739.5 L1540.9 739.5 L1541.3 739.5 L1541.7 739.5 L1542.1 739.5 L1542.5 739.5 L1543.0 739.5 L1543.4 739.4 L1543.8 739.4 L1544.2 739.4 L1544.6 739.4 L1545.0 739.4 L1545.5 739.4 L1545.9 739.4 L1546.3 739.4 L1546.7 739.4 L1547.1 739.4 L1547.5 739.4 L1547.9 739.4 L1548.4 739.4 L1548.8 739.4 L1549.2 739.4 L1549.6 739.4 L1550.0 739.4 L1550.4 739.4 L1550.9 739.4 L1551.3 739.4 L1551.7 739.4 L1552.1 739.4 L1552.5 739.4 L1552.9 739.4 L1553.4 739.4 L1553.8 739.4 L1554.2 739.3 L1554.6 739.3 L1555.0 739.3 L1555.4 739.3 L1555.9 739.3 L1556.3 739.3 L1556.7 739.3 L1557.1 739.3 L1557.5 739.3 L1557.9 739.3 L1558.3 739.3 L1558.8 739.3 L1559.2 739.3 L1559.6 739.3 L1560.0 739.3 L1560.4 739.3 L1560.8 739.3 L1561.3 739.3 L1561.7 739.3 L1562.1 739.3 L1562.5 739.3 L1562.9 739.3 L1563.3 739.3 L1563.8 739.3 L1564.2 739.3 L1564.6 739.3 L1565.0 739.3 L1565.4 739.3 L1565.8 739.3 L1566.3 739.2 L1566.7 739.2 L1567.1 739.2 L1567.5 739.2 L1567.9 739.2 L1568.3 739.2 L1568.8 739.2 L1569.2 739.2 L1569.6 739.2 L1570.0 739.2 L1570.4 739.2 L1570.8 739.2 L1571.2 739.2 L1571.7 739.2 L1572.1 739.2 L1572.5 739.2 L1572.9 739.2 L1573.3 739.2 L1573.7 739.2 L1574.2 739.2 L1574.6 739.2 L1575.0 739.2 L1575.4 739.2 L1575.8 739.2 L1576.2 739.2 L1576.7 739.2 L1577.1 739.2 L1577.5 739.2 L1577.9 739.2 L1578.3 739.2 L1578.7 739.2 L1579.2 739.2 L1579.6 739.2 L1580.0 739.1 L1580.4 739.1 L1580.8 739.1 L1581.2 739.1 L1581.7 739.1 L1582.1 739.1 L1582.5 739.1 L1582.9 739.1 L1583.3 739.1 L1583.7 739.1 L1584.2 739.1 L1584.6 739.1 L1585.0 739.1 L1585.4 739.1 L1585.8 739.1 L1586.2 739.1 L1586.7 739.1 L1587.1 739.1 L1587.5 739.1 L1587.9 739.1 L1588.3 739.1 L1588.7 739.1 L1589.2 739.1 L1589.6 739.1 L1590.0 739.1 L1590.4 739.1 L1590.8 739.1 L1591.2 739.1 L1591.6 739.1 L1592.1 739.1 L1592.5 739.1 L1592.9 739.1 L1593.3 739.1 L1593.7 739.1 L1594.1 739.1 L1594.6 739.0 L1595.0 739.0 L1595.4 739.0 L1595.8 739.0 L1596.2 739.0 L1596.6 739.0 L1597.1 739.0 L1597.5 739.0 L1597.9 739.0 L1598.3 739.0 L1598.7 739.0 L1599.1 739.0 L1599.6 739.0 L1600.0 739.0 L1600.4 739.0 L1600.8 739.0 L1601.2 739.0 L1601.6 739.0 L1602.1 739.0 L1602.5 739.0 L1602.9 739.0 L1603.3 739.0 L1603.7 739.0 L1604.1 739.0 L1604.6 739.0 L1605.0 739.0 L1605.4 739.0 L1605.8 739.0 L1606.2 739.0 L1606.6 739.0 L1607.1 739.0 L1607.5 739.0 L1607.9 739.0 L1608.3 739.0 L1608.7 739.0 L1609.1 738.9 L1609.6 738.9 L1610.0 738.9 L1610.4 738.9 L1610.8 738.9 L1611.2 738.9 L1611.6 738.9 L1612.1 738.9 L1612.5 738.9 L1612.9 738.9 L1613.3 738.9 L1613.7 738.9 L1614.1 738.9 L1614.6 738.9 L1615.0 738.9 L1615.4 738.9 L1615.8 738.9 L1616.2 738.9 L1616.6 738.9 L1617.1 738.9 L1617.5 738.9 L1617.9 738.9 L1618.3 738.9 L1618.7 738.9 L1619.1 738.9 L1619.6 738.9 L1620.0 738.9 L1620.4 738.9 L1620.8 738.9 L1621.2 738.9 L1621.6 738.9 L1622.1 738.9 L1622.5 738.9 L1622.9 738.8 L1623.3 738.8 L1623.7 738.8 L1624.2 738.8 L1624.6 738.8 L1625.0 738.8 L1625.4 738.8 L1625.8 738.8 L1626.2 738.8 L1626.7 738.8 L1627.1 738.8 L1627.5 738.8 L1627.9 738.8 L1628.3 738.8 L1628.7 738.8 L1629.2 738.8 L1629.6 738.8 L1630.0 738.8 L1630.4 738.8 L1630.8 738.8 L1631.2 738.8 L1631.7 738.8 L1632.1 738.8 L1632.5 738.8 L1632.9 738.8 L1633.3 738.8 L1633.7 738.8 L1634.2 738.8 L1634.6 738.8 L1635.0 738.8 L1635.4 738.8 L1635.8 738.7 L1636.2 738.7 L1636.7 738.7 L1637.1 738.7 L1637.5 738.7 L1637.9 738.7 L1638.3 738.7 L1638.7 738.7 L1639.2 738.7 L1639.6 738.7 L1640.0 738.7 L1640.4 738.7 L1640.8 738.7 L1641.3 738.7 L1641.7 738.7 L1642.1 738.7 L1642.5 738.7 L1642.9 738.7 L1643.3 738.7 L1643.8 738.7 L1644.2 738.7 L1644.6 738.7 L1645.0 738.7 L1645.4 738.7 L1645.8 738.7 L1646.3 738.7 L1646.7 738.7 L1647.1 738.6 L1647.5 738.6 L1647.9 738.6 L1648.3 738.6 L1648.8 738.6 L1649.2 738.6 L1649.6 738.6 L1650.0 738.6 L1650.4 738.6 L1650.9 738.6 L1651.3 738.6 L1651.7 738.6 L1652.1 738.6 L1652.5 738.6 L1652.9 738.6 L1653.4 738.6 L1653.8 738.6 L1654.2 738.6 L1654.6 738.6 L1655.0 738.6 L1655.4 738.6 L1655.9 738.6 L1656.3 738.6 L1656.7 738.6 L1657.1 738.6 L1657.5 738.5 L1658.0 738.5 L1658.4 738.5 L1658.8 738.5 L1659.2 738.5 L1659.6 738.5 L1660.0 738.5 L1660.5 738.5 L1660.9 738.5 L1661.3 738.5 L1661.7 738.5 L1662.1 738.5 L1662.5 738.5 L1663.0 738.5 L1663.4 738.5 L1663.8 738.5 L1664.2 738.5 L1664.6 738.5 L1665.1 738.5 L1665.5 738.5 L1665.9 738.5 L1666.3 738.4 L1666.7 738.4 L1667.1 738.4 L1667.6 738.4 L1668.0 738.4 L1668.4 738.4 L1668.8 738.4 L1669.2 738.4 L1669.6 738.4 L1670.1 738.4 L1670.5 738.4 L1670.9 738.4 L1671.3 738.4 L1671.7 738.4 L1672.2 738.4 L1672.6 738.4 L1673.0 738.4 L1673.4 738.4 L1673.8 738.4 L1674.2 738.4 L1674.7 738.3 L1675.1 738.3 L1675.5 738.3 L1675.9 738.3 L1676.3 738.3 L1676.8 738.3 L1677.2 738.3 L1677.6 738.3 L1678.0 738.3 L1678.4 738.3 L1678.8 738.3 L1679.3 738.3 L1679.7 738.3 L1680.1 738.3 L1680.5 738.3 L1680.9 738.3 L1681.4 738.3 L1681.8 738.3 L1682.2 738.2 L1682.6 738.2 L1683.0 738.2 L1683.4 738.2 L1683.9 738.2 L1684.3 738.2 L1684.7 738.2 L1685.1 738.2 L1685.5 738.2 L1686.0 738.2 L1686.4 738.2 L1686.8 738.2 L1687.2 738.2 L1687.6 738.2 L1688.0 738.2 L1688.5 738.2 L1688.9 738.1 L1689.3 738.1 L1689.7 738.1 L1690.1 738.1 L1690.6 738.1 L1691.0 738.1 L1691.4 738.1 L1691.8 738.1 L1692.2 738.1 L1692.6 738.1 L1693.1 738.1 L1693.5 738.1 L1693.9 738.1 L1694.3 738.1 L1694.7 738.1 L1695.2 738.0 L1695.6 738.0 L1696.0 738.0 L1696.4 738.0 L1696.8 738.0 L1697.2 738.0 L1697.7 738.0 L1698.1 738.0 L1698.5 738.0 L1698.9 738.0 L1699.3 738.0 L1699.8 738.0 L1700.2 738.0 L1700.6 738.0 L1700.7 738.0 L1700.9 737.9 L1701.0 737.9 L1701.1 737.9 L1701.3 737.9 L1701.4 737.9"/>
<path stroke="#FFB000" d="M190.6 738.0 L1701.4 738.0"/>
</g>
<g fill="none">
<rect x="796.7" y="46.7" width="299.9" height="179.1" fill="#fff" stroke="none"/>
<clipPath id="ic"><rect x="794.7" y="46.7" width="304.4" height="179.1"/></clipPath>
<path stroke="#666666" stroke-width="2" d="M809.2 46.7 v4.1 M809.2 225.8 v-4.1 M819.9 46.7 v4.1 M819.9 225.8 v-4.1 M830.5 46.7 v4.1 M830.5 225.8 v-4.1 M840.8 46.7 v4.1 M840.8 225.8 v-4.1 M850.9 46.7 v6.7 M850.9 225.8 v-6.7 M860.8 46.7 v4.1 M860.8 225.8 v-4.1 M870.5 46.7 v4.1 M870.5 225.8 v-4.1 M880.0 46.7 v4.1 M880.0 225.8 v-4.1 M889.4 46.7 v4.1 M889.4 225.8 v-4.1 M898.6 46.7 v6.7 M898.6 225.8 v-6.7 M907.6 46.7 v4.1 M907.6 225.8 v-4.1 M916.4 46.7 v4.1 M916.4 225.8 v-4.1 M925.1 46.7 v4.1 M925.1 225.8 v-4.1 M933.7 46.7 v4.1 M933.7 225.8 v-4.1 M942.1 46.7 v6.7 M942.1 225.8 v-6.7 M950.4 46.7 v4.1 M950.4 225.8 v-4.1 M958.5 46.7 v4.1 M958.5 225.8 v-4.1 M966.5 46.7 v4.1 M966.5 225.8 v-4.1 M974.4 46.7 v4.1 M974.4 225.8 v-4.1 M982.1 46.7 v6.7 M982.1 225.8 v-6.7 M989.8 46.7 v4.1 M989.8 225.8 v-4.1 M997.3 46.7 v4.1 M997.3 225.8 v-4.1 M1004.7 46.7 v4.1 M1004.7 225.8 v-4.1 M1012.0 46.7 v4.1 M1012.0 225.8 v-4.1 M1019.2 46.7 v6.7 M1019.2 225.8 v-6.7 M1026.3 46.7 v4.1 M1026.3 225.8 v-4.1 M1033.3 46.7 v4.1 M1033.3 225.8 v-4.1 M1040.2 46.7 v4.1 M1040.2 225.8 v-4.1 M1047.0 46.7 v4.1 M1047.0 225.8 v-4.1 M1053.7 46.7 v6.7 M1053.7 225.8 v-6.7 M1060.3 46.7 v4.1 M1060.3 225.8 v-4.1 M1066.9 46.7 v4.1 M1066.9 225.8 v-4.1 M1073.3 46.7 v4.1 M1073.3 225.8 v-4.1 M1079.7 46.7 v4.1 M1079.7 225.8 v-4.1 M1086.0 46.7 v6.7 M1086.0 225.8 v-6.7 M1092.2 46.7 v4.1 M1092.2 225.8 v-4.1 M796.7 95.6 h4.5 M1096.6 95.6 h-4.5"/>
<rect x="796.7" y="46.7" width="299.9" height="179.1" stroke="#666666" stroke-width="3.2"/>
<g clip-path="url(#ic)" stroke-width="5.3" stroke-linecap="round">
<path stroke="#802CA6" stroke-dasharray="31.5 22.85 0.01 22.85" stroke-dashoffset="-7.5" d="M789.0 105.5 L791.0 105.8 L793.0 106.1 L795.0 106.3 L797.0 106.6 L799.0 106.9 L801.0 107.1 L803.0 107.4 L805.0 107.6 L807.0 107.8 L809.0 108.0 L811.0 108.2 L813.0 108.3 L815.0 108.5 L817.0 108.6 L819.0 108.7 L821.0 108.7 L823.0 108.8 L825.0 108.8 L827.0 108.9 L829.0 108.9 L831.0 108.9 L833.0 108.9 L835.0 108.9 L837.0 109.0 L838.9 109.0 L840.9 109.0 L842.9 109.0 L844.9 109.0 L846.9 109.0 L848.9 109.1 L850.9 109.1 L852.8 109.1 L854.7 109.2 L856.6 109.3 L858.5 109.4 L860.4 109.5 L862.3 109.6 L864.2 109.7 L866.1 109.8 L868.0 110.0 L870.0 110.1 L871.9 110.2 L873.8 110.4 L875.7 110.5 L877.6 110.7 L879.5 110.8 L881.4 111.0 L883.3 111.1 L885.2 111.3 L887.1 111.4 L889.0 111.5 L891.0 111.6 L893.0 111.7 L894.9 111.8 L896.9 112.0 L898.9 112.1 L900.9 112.2 L902.8 112.3 L904.8 112.4 L906.8 112.5 L908.8 112.6 L910.7 112.7 L912.7 112.8 L914.7 112.9 L916.6 113.0 L918.6 113.2 L920.6 113.3 L922.6 113.4 L924.5 113.5 L926.5 113.7 L928.5 113.8 L930.5 113.9 L932.5 114.1 L934.4 114.3 L936.4 114.4 L938.4 114.6 L940.4 114.8 L942.3 115.0 L944.3 115.2 L946.3 115.4 L948.2 115.6 L950.2 115.8 L952.2 116.0 L954.2 116.2 L956.1 116.4 L958.1 116.6 L960.1 116.8 L962.1 117.0 L964.0 117.1 L966.0 117.3 L968.0 117.5 L970.0 117.7 L972.0 117.8 L973.9 118.0 L975.9 118.2 L977.9 118.3 L979.9 118.5 L981.9 118.7 L983.8 118.8 L985.8 119.0 L987.8 119.1 L989.8 119.3 L991.7 119.5 L993.7 119.6 L995.7 119.8 L997.7 119.9 L999.7 120.1 L1001.6 120.3 L1003.6 120.4 L1005.6 120.6 L1007.6 120.8 L1009.5 120.9 L1011.5 121.1 L1013.5 121.3 L1015.4 121.5 L1017.4 121.6 L1019.4 121.8 L1021.3 122.0 L1023.3 122.2 L1025.3 122.3 L1027.3 122.5 L1029.2 122.7 L1031.2 122.9 L1033.2 123.1 L1035.1 123.2 L1037.1 123.4 L1039.1 123.6 L1041.0 123.8 L1043.0 124.0 L1045.0 124.2 L1046.9 124.4 L1048.9 124.6 L1050.9 124.8 L1052.8 125.0 L1054.8 125.2 L1056.8 125.5 L1058.7 125.7 L1060.7 125.9 L1062.7 126.1 L1064.6 126.3 L1066.6 126.6 L1068.5 126.8 L1070.5 127.0 L1072.5 127.2 L1074.4 127.4 L1076.4 127.7 L1078.4 127.9 L1080.3 128.1 L1082.3 128.3 L1084.2 128.5 L1086.0 128.7 L1087.9 128.9 L1089.7 129.1 L1091.6 129.3 L1093.4 129.4 L1095.3 129.6 L1097.1 129.8 L1099.0 130.0"/>
<path stroke="#F8500A" d="M795 100.3 L1098.2 173.4"/>
<path stroke="#FFB000" d="M795 150 L1098.2 80.6"/>
</g>
<circle cx="902.8" cy="129.4" r="14.8" stroke="#FF0000" stroke-width="6"/>
<circle cx="952.5" cy="111" r="14.8" stroke="#FF0000" stroke-width="6"/>
</g>
<g fill="none" stroke="#000" stroke-width="5" stroke-linecap="round" stroke-linejoin="miter">
<ellipse cx="731.9" cy="333.1" rx="65.6" ry="55.6" pathLength="600" stroke-dasharray="60 40" stroke-dashoffset="34.5"/>
<path d="M741.5 336 V911" stroke-dasharray="59.3 35.4"/>
<path stroke-linecap="butt" d="M741.5 339 V334.2 L892.5 241.2"/>
<path stroke-linecap="butt" d="M741.5 906 V911 L1162 993.9"/>
</g>
<path fill="#000" d="M917.5 226.2 L878 229.4 L890.6 241.3 L897.5 260 Z"/>
<path fill="#000" d="M1188 998 L1156.4 975.6 L1160.4 991.9 L1149.8 1009.8 Z"/>
<rect x="1337" y="32.9" width="363.7" height="260.9" fill="#fff" stroke="#0c0c0c" stroke-width="2"/>
<g fill="none" stroke-width="6.0" stroke-linecap="round">
<path stroke="#802CA6" d="M1351.4 80.7 H1388.5 M1414.9 80.7 h0.01 M1441 80.7 H1462.6"/>
<path stroke="#F8500A" d="M1355.7 156.7 H1458.7"/>
<path stroke="#FFB000" d="M1358.5 237 H1455.9"/>
</g>
<text transform="translate(112.34 58.46) scale(0.6576 0.6430)" font-size="100">60</text>
<text transform="translate(113.57 196.75) scale(0.6448 0.6533)" font-size="100">40</text>
<text transform="translate(111.96 348.46) scale(0.6616 0.6430)" font-size="100">20</text>
<text transform="translate(137.88 487.26) scale(0.6627 0.6444)" font-size="100">0</text>
<text transform="translate(103.04 629.65) scale(0.6367 0.6489)" font-size="100">-20</text>
<text transform="translate(88.96 687.65) scale(0.6135 0.6488)" font-size="100">135</text>
<text transform="translate(113.75 765.76) scale(0.6398 0.6444)" font-size="100">90</text>
<text transform="translate(139.23 903.56) scale(0.6509 0.6370)" font-size="100">0</text>
<text transform="translate(88.12 1048.56) scale(0.6439 0.6444)" font-size="100">-90</text>
<text transform="translate(65.02 1190.65) scale(0.6422 0.6459)" font-size="100">-180</text>
<text transform="translate(166.71 1246.46) scale(0.6194 0.6385)" font-size="100">10</text>
<text transform="translate(226.66 1212.70) scale(0.2805 0.4152)" font-size="100">1</text>
<text transform="translate(654.37 1246.86) scale(0.6240 0.6430)" font-size="100">10</text>
<text transform="translate(717.41 1213.40) scale(0.4403 0.4245)" font-size="100">2</text>
<text transform="translate(1149.53 1246.65) scale(0.6286 0.6474)" font-size="100">10</text>
<text transform="translate(1213.89 1213.18) scale(0.3841 0.4182)" font-size="100">3</text>
<text transform="translate(1650.19 1246.66) scale(0.6217 0.6444)" font-size="100">10</text>
<text transform="translate(1714.26 1213.10) scale(0.3884 0.4271)" font-size="100">4</text>
<text transform="translate(770.52 1293.00) scale(0.9699 1)" font-size="54.5">Frequency (Hz)</text>
<text transform="translate(65.30 423.79) rotate(-90) scale(0.9473 1)" font-size="56.0">Magnitude(dB)</text>
<text transform="translate(65.50 1010.27) rotate(-90) scale(0.9407 1)" font-size="56.0">Phase(deg)</text>
<text transform="translate(253.30 120.70) scale(1.2500 1)" font-size="48.0" class="i">f</text>
<text transform="translate(275.62 132.30) scale(1.0226 1)" font-size="31.0" class="i">s</text>
<text transform="translate(294.33 120.70) scale(1.1459 1)" font-size="46.0">(</text>
<text transform="translate(309.73 120.70) scale(1.1893 1)" font-size="46.0">Z</text>
<text transform="translate(345.04 105.92) scale(0.2350 0.4161)" font-size="100">`</text>
<text transform="translate(340.34 132.30) scale(0.9783 1)" font-size="34.0">03</text>
<text transform="translate(379.75 120.70) scale(1.0364 1)" font-size="46.0">(</text>
<text transform="translate(396.23 120.70) scale(0.9846 1)" font-size="48.0" class="i">s</text>
<text transform="translate(416.39 120.70) scale(1.0954 1)" font-size="46.0">)</text>
<text transform="translate(431.39 120.70) scale(1.0954 1)" font-size="46.0">)</text>
<text transform="translate(456.88 120.70) scale(1.1824 1)" font-size="46.0">&gt;</text>
<text transform="translate(500.80 120.70) scale(1.2500 1)" font-size="48.0" class="i">f</text>
<text transform="translate(521.99 132.30) scale(1.1156 1)" font-size="31.0" class="i">s</text>
<text transform="translate(541.68 120.70) scale(1.0195 1)" font-size="46.0">(</text>
<text transform="translate(557.34 120.70) scale(1.1381 1)" font-size="46.0">Z</text>
<text transform="translate(587.90 132.30) scale(0.9295 1)" font-size="34.0">0</text>
<text transform="translate(609.65 120.70) scale(1.0870 1)" font-size="46.0">(</text>
<text transform="translate(625.92 120.70) scale(1.0086 1)" font-size="48.0" class="i">s</text>
<text transform="translate(646.41 120.70) scale(1.0111 1)" font-size="46.0">)</text>
<text transform="translate(662.24 120.70) scale(1.1291 1)" font-size="46.0">)</text>
<text transform="translate(1486.11 88.70) scale(1.1723 1)" font-size="47.0">Z</text>
<text transform="translate(1521.32 75.82) scale(0.3250 0.4362)" font-size="100">`</text>
<text transform="translate(1517.66 100.60) scale(0.9767 1)" font-size="33.5">03</text>
<text transform="translate(1555.65 88.70) scale(1.0638 1)" font-size="47.0">(</text>
<text transform="translate(1573.40 88.70) scale(1.0387 1)" font-size="48.0" class="i">s</text>
<text transform="translate(1592.90 88.70) scale(1.0638 1)" font-size="47.0">)</text>
<text transform="translate(1485.82 174.00) scale(1.1365 1)" font-size="54.0">Z</text>
<text transform="translate(1518.20 181.50) scale(1.0687 1)" font-size="32.0">0</text>
<text transform="translate(1533.50 174.00) scale(1.1213 1)" font-size="56.0">(</text>
<text transform="translate(1552.83 174.00) scale(0.9639 1)" font-size="58.0" class="i">s</text>
<text transform="translate(1572.13 174.00) scale(1.0451 1)" font-size="56.0">)</text>
<text transform="translate(1478.47 262.50) scale(0.9154 1)" font-size="52.0" class="i">L</text>
<text transform="translate(1506.00 267.90) scale(1.0434 1)" font-size="35.0" class="i">g</text>
<text transform="translate(1522.45 262.50) scale(1.1571 1)" font-size="52.0">=</text>
<text transform="translate(1556.30 262.50) scale(0.8172 1)" font-size="52.0">1</text>
<text transform="translate(1584.28 262.50) scale(0.8226 1)" font-size="52.0">1</text>
<text transform="translate(1604.17 262.50) scale(1.0341 1)" font-size="52.0">m</text>
<text transform="translate(1645.77 262.50) scale(1.1220 1)" font-size="52.0">H</text>
<text transform="translate(1259.70 951.30) scale(1.1094 1)" font-size="49.5" class="i">frequence</text>
<text transform="translate(1476.66 951.30) scale(1.2500 1)" font-size="49.5">:</text>
<text transform="translate(1495.44 951.30) scale(1.0587 1)" font-size="49.5">122Hz</text>
<text transform="translate(1266.96 1014.50) scale(1.0475 1)" font-size="49.5" class="i">phase</text>
<text transform="translate(1391.48 1014.50) scale(1.2327 1)" font-size="49.5">:</text>
<text transform="translate(1407.44 1014.50) scale(1.0683 1)" font-size="49.5">-18.4</text>
<text transform="translate(1515.23 1015.57) scale(0.5902 0.5545)" font-size="100">°</text>
<text transform="translate(1255.79 1095.70) scale(1.0696 1)" font-size="45.5" class="i">PM</text>
<text transform="translate(1341.17 1095.70) scale(1.1813 1)" font-size="45.5">=</text>
<text transform="translate(1378.82 1095.70) scale(1.0883 1)" font-size="45.0">71.6</text>
<text transform="translate(1463.85 1083.15) scale(0.3508 0.3135)" font-size="100">°</text>
<text transform="translate(1490.32 1095.70) scale(1.1766 1)" font-size="45.5">&gt;</text>
<text transform="translate(1531.39 1095.70) scale(1.0699 1)" font-size="45.0">40</text>
<text transform="translate(1578.34 1083.15) scale(0.3541 0.3135)" font-size="100">°</text>
</svg></body></html>
